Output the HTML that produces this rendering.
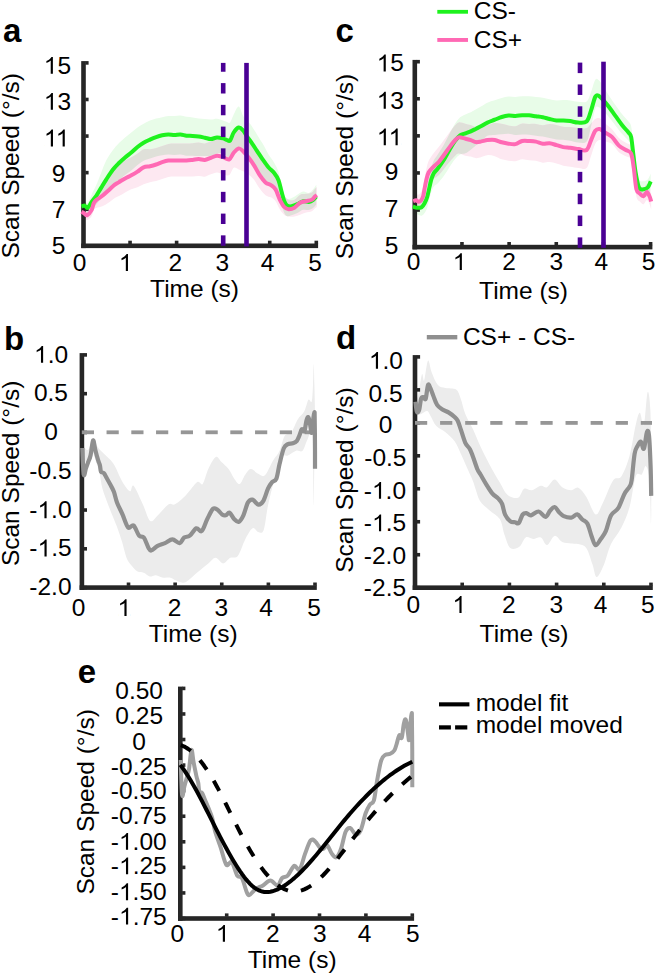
<!DOCTYPE html><html><head><meta charset="utf-8"><title>Figure</title><style>html,body{margin:0;padding:0;background:#fff;}svg{display:block;font-family:"Liberation Sans",sans-serif;}</style></head><body><svg width="657" height="974" viewBox="0 0 657 974" font-family="Liberation Sans, sans-serif"><defs><clipPath id="clipA"><path d="M81.50,207.70 C81.93,207.91 83.17,208.52 84.10,208.98 C85.03,209.44 85.88,211.17 87.10,210.48 C88.32,209.79 90.28,207.06 91.40,204.83 C92.52,202.61 92.98,199.11 93.80,197.13 C94.62,195.15 94.87,194.87 96.30,192.95 C97.73,191.03 100.38,188.21 102.40,185.60 C104.42,182.99 106.38,180.06 108.40,177.29 C110.42,174.52 112.73,171.18 114.50,168.98 C116.27,166.78 117.23,165.53 119.00,164.10 C120.77,162.67 123.05,161.53 125.10,160.40 C127.15,159.27 129.23,158.43 131.30,157.30 C133.37,156.17 135.45,154.93 137.50,153.60 C139.55,152.27 141.52,150.03 143.60,149.30 C145.68,148.57 147.92,149.42 150.00,149.20 C152.08,148.98 154.07,148.53 156.10,148.01 C158.13,147.49 160.17,146.76 162.20,146.08 C164.23,145.41 166.27,144.41 168.30,143.97 C170.33,143.54 172.38,143.58 174.40,143.50 C176.42,143.42 178.38,143.50 180.40,143.50 C182.42,143.50 184.47,143.58 186.50,143.52 C188.53,143.46 190.57,143.31 192.60,143.15 C194.63,143.00 196.67,142.55 198.70,142.59 C200.73,142.63 202.77,143.61 204.80,143.40 C206.83,143.19 208.87,142.03 210.90,141.30 C212.93,140.58 214.98,139.23 217.00,139.05 C219.02,138.87 220.95,139.85 223.00,140.20 C225.05,140.55 227.52,142.19 229.30,141.12 C231.08,140.06 232.13,136.09 233.70,133.80 C235.27,131.51 237.13,127.81 238.70,127.40 C240.27,126.99 241.53,129.59 243.10,131.31 C244.67,133.04 246.30,135.19 248.10,137.74 C249.90,140.29 251.97,143.29 253.90,146.63 C255.83,149.97 257.77,154.65 259.70,157.78 C261.63,160.91 263.57,163.65 265.50,165.40 C267.43,167.15 269.62,167.04 271.30,168.30 C272.98,169.56 274.17,170.06 275.60,172.93 C277.03,175.80 278.45,181.82 279.90,185.52 C281.35,189.23 282.85,192.79 284.30,195.17 C285.75,197.56 286.92,199.07 288.60,199.83 C290.28,200.58 292.47,200.55 294.40,199.70 C296.33,198.85 298.27,195.69 300.20,194.72 C302.13,193.75 304.07,194.25 306.00,193.87 C307.93,193.49 310.30,193.30 311.80,192.45 C313.30,191.60 314.17,189.65 315.00,188.75 C315.83,187.85 316.50,187.31 316.80,187.03 L316.80,206.97 C316.50,207.19 315.83,207.55 315.00,208.25 C314.17,208.95 313.30,210.44 311.80,211.15 C310.30,211.86 307.93,211.95 306.00,212.53 C304.07,213.12 302.13,214.00 300.20,214.68 C298.27,215.35 296.33,216.28 294.40,216.59 C292.47,216.90 290.28,216.81 288.60,216.54 C286.92,216.27 285.75,216.11 284.30,214.96 C282.85,213.80 281.35,211.89 279.90,209.62 C278.45,207.35 277.03,203.34 275.60,201.33 C274.17,199.33 272.98,198.62 271.30,197.58 C269.62,196.55 267.43,196.63 265.50,195.13 C263.57,193.64 261.63,191.21 259.70,188.62 C257.77,186.03 255.83,182.02 253.90,179.57 C251.97,177.12 249.90,175.30 248.10,173.91 C246.30,172.52 244.67,171.99 243.10,171.24 C241.53,170.49 240.27,169.97 238.70,169.40 C237.13,168.83 235.27,166.85 233.70,167.80 C232.13,168.75 231.08,174.06 229.30,175.12 C227.52,176.19 225.05,174.63 223.00,174.20 C220.95,173.77 219.02,172.53 217.00,172.55 C214.98,172.57 212.93,173.62 210.90,174.30 C208.87,174.99 206.83,176.36 204.80,176.66 C202.77,176.95 200.73,176.12 198.70,176.08 C196.67,176.04 194.63,176.33 192.60,176.41 C190.57,176.48 188.53,176.52 186.50,176.54 C184.47,176.55 182.42,176.51 180.40,176.50 C178.38,176.49 176.42,176.42 174.40,176.50 C172.38,176.58 170.33,176.54 168.30,176.97 C166.27,177.41 164.23,178.41 162.20,179.08 C160.17,179.76 158.13,180.49 156.10,181.01 C154.07,181.53 152.08,181.65 150.00,182.20 C147.92,182.75 145.68,183.48 143.60,184.30 C141.52,185.12 139.55,186.30 137.50,187.15 C135.45,187.99 133.37,188.50 131.30,189.37 C129.23,190.25 127.15,191.28 125.10,192.40 C123.05,193.52 120.77,195.13 119.00,196.10 C117.23,197.07 116.27,197.10 114.50,198.21 C112.73,199.32 110.42,201.42 108.40,202.77 C106.38,204.12 104.42,205.42 102.40,206.30 C100.38,207.18 97.73,207.44 96.30,208.06 C94.87,208.68 94.62,208.62 93.80,210.03 C92.98,211.45 92.52,214.85 91.40,216.53 C90.28,218.21 88.32,219.97 87.10,220.12 C85.88,220.27 85.03,218.16 84.10,217.42 C83.17,216.68 81.93,215.99 81.50,215.70 Z"/></clipPath><clipPath id="clipC"><path d="M413.20,196.20 C413.67,195.90 415.12,194.63 416.00,194.39 C416.88,194.15 417.67,195.10 418.50,194.75 C419.33,194.41 420.22,193.64 421.00,192.32 C421.78,191.00 422.63,188.89 423.20,186.82 C423.77,184.74 423.88,182.76 424.40,179.87 C424.92,176.99 425.60,172.63 426.30,169.50 C427.00,166.37 427.42,163.77 428.60,161.12 C429.78,158.46 431.72,155.91 433.40,153.57 C435.08,151.23 436.92,149.39 438.70,147.10 C440.48,144.81 442.32,142.25 444.10,139.80 C445.88,137.35 447.63,134.75 449.40,132.40 C451.17,130.05 453.15,127.37 454.70,125.70 C456.25,124.03 456.92,122.73 458.70,122.40 C460.48,122.07 463.38,123.25 465.40,123.70 C467.42,124.15 469.02,124.53 470.80,125.10 C472.58,125.67 474.33,126.88 476.10,127.10 C477.87,127.32 479.52,126.73 481.40,126.40 C483.28,126.07 485.17,125.66 487.40,125.10 C489.63,124.54 492.42,123.22 494.80,123.02 C497.18,122.81 499.42,123.45 501.70,123.86 C503.98,124.27 506.22,125.10 508.50,125.48 C510.78,125.86 513.12,126.46 515.40,126.13 C517.68,125.79 519.92,123.84 522.20,123.48 C524.48,123.12 526.82,123.87 529.10,123.94 C531.38,124.01 533.62,123.71 535.90,123.92 C538.18,124.13 540.52,125.20 542.80,125.22 C545.08,125.24 547.32,124.06 549.60,124.04 C551.88,124.01 554.22,124.62 556.50,125.08 C558.78,125.53 561.02,126.41 563.30,126.75 C565.58,127.09 567.63,126.93 570.20,127.12 C572.77,127.32 575.97,127.78 578.70,127.93 C581.43,128.08 584.55,128.79 586.60,128.04 C588.65,127.28 589.55,124.93 591.00,123.40 C592.45,121.87 593.85,119.74 595.30,118.88 C596.75,118.02 598.10,117.54 599.70,118.25 C601.30,118.96 602.87,121.35 604.90,123.14 C606.93,124.93 609.57,126.51 611.90,128.99 C614.23,131.46 616.57,135.72 618.90,138.00 C621.23,140.29 623.87,141.31 625.90,142.72 C627.93,144.13 629.78,143.40 631.10,146.46 C632.42,149.52 632.92,155.19 633.80,161.08 C634.68,166.96 635.38,177.66 636.40,181.75 C637.42,185.84 638.73,184.52 639.90,185.61 C641.07,186.70 642.23,188.59 643.40,188.30 C644.57,188.01 645.88,183.90 646.90,183.90 C647.92,183.90 648.78,186.70 649.50,188.30 C650.22,189.90 650.92,192.63 651.20,193.50 L651.20,209.50 C650.92,208.63 650.22,205.90 649.50,204.30 C648.78,202.70 647.92,199.90 646.90,199.90 C645.88,199.90 644.57,204.02 643.40,204.30 C642.23,204.58 641.07,202.89 639.90,201.57 C638.73,200.26 637.42,200.87 636.40,196.40 C635.38,191.93 634.68,180.89 633.80,174.75 C632.92,168.61 632.42,162.62 631.10,159.54 C629.78,156.46 627.93,157.50 625.90,156.28 C623.87,155.05 621.23,154.27 618.90,152.20 C616.57,150.12 614.23,145.59 611.90,143.81 C609.57,142.04 606.93,142.16 604.90,141.54 C602.87,140.92 601.30,139.76 599.70,140.12 C598.10,140.48 596.75,141.05 595.30,143.68 C593.85,146.31 592.45,151.84 591.00,155.90 C589.55,159.96 588.65,166.03 586.60,168.04 C584.55,170.04 581.43,168.16 578.70,167.93 C575.97,167.70 572.77,167.00 570.20,166.64 C567.63,166.28 565.58,166.28 563.30,165.77 C561.02,165.27 558.78,164.23 556.50,163.61 C554.22,162.99 551.88,162.20 549.60,162.05 C547.32,161.90 545.08,162.90 542.80,162.71 C540.52,162.51 538.18,161.27 535.90,160.87 C533.62,160.48 531.38,160.63 529.10,160.35 C526.82,160.07 524.48,159.06 522.20,159.20 C519.92,159.34 517.68,160.92 515.40,161.17 C513.12,161.42 510.78,161.01 508.50,160.70 C506.22,160.39 503.98,160.06 501.70,159.30 C499.42,158.54 497.18,156.82 494.80,156.13 C492.42,155.44 489.63,155.01 487.40,155.15 C485.17,155.29 483.28,156.48 481.40,156.97 C479.52,157.47 477.87,158.20 476.10,158.13 C474.33,158.07 472.58,157.01 470.80,156.60 C469.02,156.18 467.42,156.19 465.40,155.67 C463.38,155.14 460.48,153.38 458.70,153.47 C456.92,153.55 456.25,154.74 454.70,156.17 C453.15,157.61 451.17,160.00 449.40,162.09 C447.63,164.18 445.88,166.52 444.10,168.70 C442.32,170.89 440.48,173.53 438.70,175.20 C436.92,176.88 435.08,177.38 433.40,178.74 C431.72,180.09 429.78,181.40 428.60,183.33 C427.42,185.26 427.00,187.63 426.30,190.30 C425.60,192.97 424.92,196.85 424.40,199.33 C423.88,201.81 423.77,203.62 423.20,205.18 C422.63,206.74 421.78,208.07 421.00,208.68 C420.22,209.29 419.33,209.26 418.50,208.85 C417.67,208.43 416.88,206.65 416.00,206.21 C415.12,205.77 413.67,206.20 413.20,206.20 Z"/></clipPath></defs><rect width="657" height="974" fill="#fff"/><path d="M81.50,202.50 C82.03,202.29 83.77,201.15 84.70,201.26 C85.63,201.37 86.38,203.30 87.10,203.18 C87.82,203.06 88.18,202.12 89.00,200.53 C89.82,198.94 90.78,196.24 92.00,193.63 C93.22,191.03 94.78,188.33 96.30,184.88 C97.82,181.44 99.45,177.03 101.10,172.98 C102.75,168.93 104.25,164.37 106.20,160.58 C108.15,156.80 110.67,153.21 112.80,150.28 C114.93,147.35 116.95,145.15 119.00,143.00 C121.05,140.85 123.05,139.15 125.10,137.40 C127.15,135.65 129.23,134.17 131.30,132.52 C133.37,130.88 135.45,128.99 137.50,127.52 C139.55,126.05 141.52,124.85 143.60,123.70 C145.68,122.55 147.92,121.45 150.00,120.60 C152.08,119.75 154.07,119.16 156.10,118.61 C158.13,118.06 160.17,117.72 162.20,117.28 C164.23,116.84 166.27,116.17 168.30,115.97 C170.33,115.78 172.38,116.18 174.40,116.10 C176.42,116.02 178.38,115.39 180.40,115.50 C182.42,115.61 184.47,116.42 186.50,116.74 C188.53,117.06 190.57,117.12 192.60,117.41 C194.63,117.70 196.67,118.22 198.70,118.48 C200.73,118.74 202.77,118.80 204.80,118.97 C206.83,119.15 208.87,119.55 210.90,119.51 C212.93,119.48 214.98,118.60 217.00,118.75 C219.02,118.90 221.42,119.89 223.00,120.40 C224.58,120.91 225.32,121.45 226.50,121.80 C227.68,122.15 228.90,123.72 230.10,122.50 C231.30,121.28 232.27,117.17 233.70,114.50 C235.13,111.83 237.13,106.27 238.70,106.50 C240.27,106.73 241.77,113.54 243.10,115.87 C244.43,118.19 245.38,118.94 246.70,120.44 C248.02,121.95 249.32,122.62 251.00,124.90 C252.68,127.18 254.87,131.01 256.80,134.13 C258.73,137.24 260.67,140.24 262.60,143.58 C264.53,146.91 266.47,150.98 268.40,154.15 C270.33,157.33 272.52,159.70 274.20,162.63 C275.88,165.56 277.30,168.20 278.50,171.76 C279.70,175.31 280.43,180.05 281.40,183.94 C282.37,187.84 283.33,192.66 284.30,195.11 C285.27,197.57 286.00,198.17 287.20,198.69 C288.40,199.20 289.82,198.85 291.50,198.19 C293.18,197.52 295.37,195.81 297.30,194.70 C299.23,193.59 301.17,191.85 303.10,191.54 C305.03,191.24 307.22,193.28 308.90,192.89 C310.58,192.50 311.97,190.58 313.20,189.23 C314.43,187.87 315.78,185.51 316.30,184.76 L316.30,204.50 C315.78,205.05 314.43,206.90 313.20,207.80 C311.97,208.70 310.58,209.57 308.90,209.91 C307.22,210.25 305.03,209.32 303.10,209.86 C301.17,210.39 299.23,212.19 297.30,213.10 C295.37,214.01 293.18,214.78 291.50,215.30 C289.82,215.82 288.40,216.60 287.20,216.23 C286.00,215.86 285.27,215.02 284.30,213.07 C283.33,211.12 282.37,207.51 281.40,204.54 C280.43,201.58 279.70,197.68 278.50,195.26 C277.30,192.83 275.88,191.84 274.20,190.00 C272.52,188.16 270.33,186.48 268.40,184.20 C266.47,181.92 264.53,178.91 262.60,176.30 C260.67,173.69 258.73,171.11 256.80,168.55 C254.87,165.98 252.68,163.05 251.00,160.90 C249.32,158.75 248.02,157.39 246.70,155.64 C245.38,153.89 244.43,151.58 243.10,150.39 C241.77,149.20 240.27,148.31 238.70,148.50 C237.13,148.69 235.13,149.89 233.70,151.50 C232.27,153.11 231.30,157.39 230.10,158.15 C228.90,158.92 227.68,156.90 226.50,156.11 C225.32,155.32 224.58,153.83 223.00,153.40 C221.42,152.97 219.02,153.06 217.00,153.50 C214.98,153.94 212.93,155.61 210.90,156.02 C208.87,156.44 206.83,155.99 204.80,155.99 C202.77,155.99 200.73,156.07 198.70,156.01 C196.67,155.95 194.63,155.70 192.60,155.65 C190.57,155.59 188.53,155.87 186.50,155.68 C184.47,155.49 182.42,154.60 180.40,154.50 C178.38,154.40 176.42,155.10 174.40,155.10 C172.38,155.10 170.33,154.47 168.30,154.50 C166.27,154.53 164.23,154.95 162.20,155.30 C160.17,155.65 158.13,156.06 156.10,156.61 C154.07,157.16 152.08,157.92 150.00,158.60 C147.92,159.28 145.68,159.63 143.60,160.70 C141.52,161.77 139.55,163.37 137.50,165.00 C135.45,166.63 133.37,168.85 131.30,170.50 C129.23,172.15 127.15,173.32 125.10,174.91 C123.05,176.49 121.05,178.42 119.00,180.00 C116.95,181.58 114.93,182.47 112.80,184.42 C110.67,186.36 108.15,189.37 106.20,191.68 C104.25,193.99 102.75,196.12 101.10,198.27 C99.45,200.41 97.82,202.84 96.30,204.57 C94.78,206.29 93.22,207.31 92.00,208.63 C90.78,209.96 89.82,211.70 89.00,212.53 C88.18,213.37 87.82,214.02 87.10,213.64 C86.38,213.26 85.63,210.80 84.70,210.28 C83.77,209.76 82.03,210.46 81.50,210.50 Z" fill="#e8fce8"/>
<path d="M81.50,207.70 C81.93,207.91 83.17,208.52 84.10,208.98 C85.03,209.44 85.88,211.17 87.10,210.48 C88.32,209.79 90.28,207.06 91.40,204.83 C92.52,202.61 92.98,199.11 93.80,197.13 C94.62,195.15 94.87,194.87 96.30,192.95 C97.73,191.03 100.38,188.21 102.40,185.60 C104.42,182.99 106.38,180.06 108.40,177.29 C110.42,174.52 112.73,171.18 114.50,168.98 C116.27,166.78 117.23,165.53 119.00,164.10 C120.77,162.67 123.05,161.53 125.10,160.40 C127.15,159.27 129.23,158.43 131.30,157.30 C133.37,156.17 135.45,154.93 137.50,153.60 C139.55,152.27 141.52,150.03 143.60,149.30 C145.68,148.57 147.92,149.42 150.00,149.20 C152.08,148.98 154.07,148.53 156.10,148.01 C158.13,147.49 160.17,146.76 162.20,146.08 C164.23,145.41 166.27,144.41 168.30,143.97 C170.33,143.54 172.38,143.58 174.40,143.50 C176.42,143.42 178.38,143.50 180.40,143.50 C182.42,143.50 184.47,143.58 186.50,143.52 C188.53,143.46 190.57,143.31 192.60,143.15 C194.63,143.00 196.67,142.55 198.70,142.59 C200.73,142.63 202.77,143.61 204.80,143.40 C206.83,143.19 208.87,142.03 210.90,141.30 C212.93,140.58 214.98,139.23 217.00,139.05 C219.02,138.87 220.95,139.85 223.00,140.20 C225.05,140.55 227.52,142.19 229.30,141.12 C231.08,140.06 232.13,136.09 233.70,133.80 C235.27,131.51 237.13,127.81 238.70,127.40 C240.27,126.99 241.53,129.59 243.10,131.31 C244.67,133.04 246.30,135.19 248.10,137.74 C249.90,140.29 251.97,143.29 253.90,146.63 C255.83,149.97 257.77,154.65 259.70,157.78 C261.63,160.91 263.57,163.65 265.50,165.40 C267.43,167.15 269.62,167.04 271.30,168.30 C272.98,169.56 274.17,170.06 275.60,172.93 C277.03,175.80 278.45,181.82 279.90,185.52 C281.35,189.23 282.85,192.79 284.30,195.17 C285.75,197.56 286.92,199.07 288.60,199.83 C290.28,200.58 292.47,200.55 294.40,199.70 C296.33,198.85 298.27,195.69 300.20,194.72 C302.13,193.75 304.07,194.25 306.00,193.87 C307.93,193.49 310.30,193.30 311.80,192.45 C313.30,191.60 314.17,189.65 315.00,188.75 C315.83,187.85 316.50,187.31 316.80,187.03 L316.80,206.97 C316.50,207.19 315.83,207.55 315.00,208.25 C314.17,208.95 313.30,210.44 311.80,211.15 C310.30,211.86 307.93,211.95 306.00,212.53 C304.07,213.12 302.13,214.00 300.20,214.68 C298.27,215.35 296.33,216.28 294.40,216.59 C292.47,216.90 290.28,216.81 288.60,216.54 C286.92,216.27 285.75,216.11 284.30,214.96 C282.85,213.80 281.35,211.89 279.90,209.62 C278.45,207.35 277.03,203.34 275.60,201.33 C274.17,199.33 272.98,198.62 271.30,197.58 C269.62,196.55 267.43,196.63 265.50,195.13 C263.57,193.64 261.63,191.21 259.70,188.62 C257.77,186.03 255.83,182.02 253.90,179.57 C251.97,177.12 249.90,175.30 248.10,173.91 C246.30,172.52 244.67,171.99 243.10,171.24 C241.53,170.49 240.27,169.97 238.70,169.40 C237.13,168.83 235.27,166.85 233.70,167.80 C232.13,168.75 231.08,174.06 229.30,175.12 C227.52,176.19 225.05,174.63 223.00,174.20 C220.95,173.77 219.02,172.53 217.00,172.55 C214.98,172.57 212.93,173.62 210.90,174.30 C208.87,174.99 206.83,176.36 204.80,176.66 C202.77,176.95 200.73,176.12 198.70,176.08 C196.67,176.04 194.63,176.33 192.60,176.41 C190.57,176.48 188.53,176.52 186.50,176.54 C184.47,176.55 182.42,176.51 180.40,176.50 C178.38,176.49 176.42,176.42 174.40,176.50 C172.38,176.58 170.33,176.54 168.30,176.97 C166.27,177.41 164.23,178.41 162.20,179.08 C160.17,179.76 158.13,180.49 156.10,181.01 C154.07,181.53 152.08,181.65 150.00,182.20 C147.92,182.75 145.68,183.48 143.60,184.30 C141.52,185.12 139.55,186.30 137.50,187.15 C135.45,187.99 133.37,188.50 131.30,189.37 C129.23,190.25 127.15,191.28 125.10,192.40 C123.05,193.52 120.77,195.13 119.00,196.10 C117.23,197.07 116.27,197.10 114.50,198.21 C112.73,199.32 110.42,201.42 108.40,202.77 C106.38,204.12 104.42,205.42 102.40,206.30 C100.38,207.18 97.73,207.44 96.30,208.06 C94.87,208.68 94.62,208.62 93.80,210.03 C92.98,211.45 92.52,214.85 91.40,216.53 C90.28,218.21 88.32,219.97 87.10,220.12 C85.88,220.27 85.03,218.16 84.10,217.42 C83.17,216.68 81.93,215.99 81.50,215.70 Z" fill="#fde8f1"/>
<path d="M81.50,202.50 C82.03,202.29 83.77,201.15 84.70,201.26 C85.63,201.37 86.38,203.30 87.10,203.18 C87.82,203.06 88.18,202.12 89.00,200.53 C89.82,198.94 90.78,196.24 92.00,193.63 C93.22,191.03 94.78,188.33 96.30,184.88 C97.82,181.44 99.45,177.03 101.10,172.98 C102.75,168.93 104.25,164.37 106.20,160.58 C108.15,156.80 110.67,153.21 112.80,150.28 C114.93,147.35 116.95,145.15 119.00,143.00 C121.05,140.85 123.05,139.15 125.10,137.40 C127.15,135.65 129.23,134.17 131.30,132.52 C133.37,130.88 135.45,128.99 137.50,127.52 C139.55,126.05 141.52,124.85 143.60,123.70 C145.68,122.55 147.92,121.45 150.00,120.60 C152.08,119.75 154.07,119.16 156.10,118.61 C158.13,118.06 160.17,117.72 162.20,117.28 C164.23,116.84 166.27,116.17 168.30,115.97 C170.33,115.78 172.38,116.18 174.40,116.10 C176.42,116.02 178.38,115.39 180.40,115.50 C182.42,115.61 184.47,116.42 186.50,116.74 C188.53,117.06 190.57,117.12 192.60,117.41 C194.63,117.70 196.67,118.22 198.70,118.48 C200.73,118.74 202.77,118.80 204.80,118.97 C206.83,119.15 208.87,119.55 210.90,119.51 C212.93,119.48 214.98,118.60 217.00,118.75 C219.02,118.90 221.42,119.89 223.00,120.40 C224.58,120.91 225.32,121.45 226.50,121.80 C227.68,122.15 228.90,123.72 230.10,122.50 C231.30,121.28 232.27,117.17 233.70,114.50 C235.13,111.83 237.13,106.27 238.70,106.50 C240.27,106.73 241.77,113.54 243.10,115.87 C244.43,118.19 245.38,118.94 246.70,120.44 C248.02,121.95 249.32,122.62 251.00,124.90 C252.68,127.18 254.87,131.01 256.80,134.13 C258.73,137.24 260.67,140.24 262.60,143.58 C264.53,146.91 266.47,150.98 268.40,154.15 C270.33,157.33 272.52,159.70 274.20,162.63 C275.88,165.56 277.30,168.20 278.50,171.76 C279.70,175.31 280.43,180.05 281.40,183.94 C282.37,187.84 283.33,192.66 284.30,195.11 C285.27,197.57 286.00,198.17 287.20,198.69 C288.40,199.20 289.82,198.85 291.50,198.19 C293.18,197.52 295.37,195.81 297.30,194.70 C299.23,193.59 301.17,191.85 303.10,191.54 C305.03,191.24 307.22,193.28 308.90,192.89 C310.58,192.50 311.97,190.58 313.20,189.23 C314.43,187.87 315.78,185.51 316.30,184.76 L316.30,204.50 C315.78,205.05 314.43,206.90 313.20,207.80 C311.97,208.70 310.58,209.57 308.90,209.91 C307.22,210.25 305.03,209.32 303.10,209.86 C301.17,210.39 299.23,212.19 297.30,213.10 C295.37,214.01 293.18,214.78 291.50,215.30 C289.82,215.82 288.40,216.60 287.20,216.23 C286.00,215.86 285.27,215.02 284.30,213.07 C283.33,211.12 282.37,207.51 281.40,204.54 C280.43,201.58 279.70,197.68 278.50,195.26 C277.30,192.83 275.88,191.84 274.20,190.00 C272.52,188.16 270.33,186.48 268.40,184.20 C266.47,181.92 264.53,178.91 262.60,176.30 C260.67,173.69 258.73,171.11 256.80,168.55 C254.87,165.98 252.68,163.05 251.00,160.90 C249.32,158.75 248.02,157.39 246.70,155.64 C245.38,153.89 244.43,151.58 243.10,150.39 C241.77,149.20 240.27,148.31 238.70,148.50 C237.13,148.69 235.13,149.89 233.70,151.50 C232.27,153.11 231.30,157.39 230.10,158.15 C228.90,158.92 227.68,156.90 226.50,156.11 C225.32,155.32 224.58,153.83 223.00,153.40 C221.42,152.97 219.02,153.06 217.00,153.50 C214.98,153.94 212.93,155.61 210.90,156.02 C208.87,156.44 206.83,155.99 204.80,155.99 C202.77,155.99 200.73,156.07 198.70,156.01 C196.67,155.95 194.63,155.70 192.60,155.65 C190.57,155.59 188.53,155.87 186.50,155.68 C184.47,155.49 182.42,154.60 180.40,154.50 C178.38,154.40 176.42,155.10 174.40,155.10 C172.38,155.10 170.33,154.47 168.30,154.50 C166.27,154.53 164.23,154.95 162.20,155.30 C160.17,155.65 158.13,156.06 156.10,156.61 C154.07,157.16 152.08,157.92 150.00,158.60 C147.92,159.28 145.68,159.63 143.60,160.70 C141.52,161.77 139.55,163.37 137.50,165.00 C135.45,166.63 133.37,168.85 131.30,170.50 C129.23,172.15 127.15,173.32 125.10,174.91 C123.05,176.49 121.05,178.42 119.00,180.00 C116.95,181.58 114.93,182.47 112.80,184.42 C110.67,186.36 108.15,189.37 106.20,191.68 C104.25,193.99 102.75,196.12 101.10,198.27 C99.45,200.41 97.82,202.84 96.30,204.57 C94.78,206.29 93.22,207.31 92.00,208.63 C90.78,209.96 89.82,211.70 89.00,212.53 C88.18,213.37 87.82,214.02 87.10,213.64 C86.38,213.26 85.63,210.80 84.70,210.28 C83.77,209.76 82.03,210.46 81.50,210.50 Z" fill="#dfe0d9" clip-path="url(#clipA)"/>
<rect x="81.20" y="61.10" width="4.60" height="187.00" fill="#262626"/>
<rect x="81.20" y="243.50" width="236.90" height="4.60" fill="#262626"/>
<rect x="85.30" y="244.00" width="3.30" height="3.60" fill="#262626"/>
<rect x="85.30" y="207.42" width="3.30" height="3.60" fill="#262626"/>
<rect x="85.30" y="170.84" width="3.30" height="3.60" fill="#262626"/>
<rect x="85.30" y="134.26" width="3.30" height="3.60" fill="#262626"/>
<rect x="85.30" y="97.68" width="3.30" height="3.60" fill="#262626"/>
<rect x="85.30" y="61.10" width="3.30" height="3.60" fill="#262626"/>
<rect x="128.26" y="240.70" width="3.60" height="3.30" fill="#262626"/>
<rect x="174.82" y="240.70" width="3.60" height="3.30" fill="#262626"/>
<rect x="221.38" y="240.70" width="3.60" height="3.30" fill="#262626"/>
<rect x="267.94" y="240.70" width="3.60" height="3.30" fill="#262626"/>
<rect x="314.50" y="240.70" width="3.60" height="3.30" fill="#262626"/>
<path d="M81.50,206.50 C82.03,206.35 83.77,205.35 84.70,205.60 C85.63,205.85 86.38,207.90 87.10,208.00 C87.82,208.10 88.18,207.32 89.00,206.20 C89.82,205.08 90.78,203.03 92.00,201.30 C93.22,199.57 94.78,198.03 96.30,195.80 C97.82,193.57 99.45,190.60 101.10,187.90 C102.75,185.20 104.25,182.62 106.20,179.60 C108.15,176.58 110.67,172.57 112.80,169.80 C114.93,167.03 116.95,165.07 119.00,163.00 C121.05,160.93 123.05,159.15 125.10,157.40 C127.15,155.65 129.23,154.23 131.30,152.50 C133.37,150.77 135.45,148.63 137.50,147.00 C139.55,145.37 141.52,143.93 143.60,142.70 C145.68,141.47 147.92,140.53 150.00,139.60 C152.08,138.67 154.07,137.82 156.10,137.10 C158.13,136.38 160.17,135.73 162.20,135.30 C164.23,134.87 166.27,134.53 168.30,134.50 C170.33,134.47 172.38,135.10 174.40,135.10 C176.42,135.10 178.38,134.40 180.40,134.50 C182.42,134.60 184.47,135.47 186.50,135.70 C188.53,135.93 190.57,135.77 192.60,135.90 C194.63,136.03 196.67,136.20 198.70,136.50 C200.73,136.80 202.77,137.28 204.80,137.70 C206.83,138.12 208.87,139.03 210.90,139.00 C212.93,138.97 214.98,137.60 217.00,137.50 C219.02,137.40 221.42,138.02 223.00,138.40 C224.58,138.78 225.32,139.45 226.50,139.80 C227.68,140.15 228.90,141.72 230.10,140.50 C231.30,139.28 232.27,134.67 233.70,132.50 C235.13,130.33 237.13,127.85 238.70,127.50 C240.27,127.15 241.77,128.97 243.10,130.40 C244.43,131.83 245.38,134.18 246.70,136.10 C248.02,138.02 249.32,139.48 251.00,141.90 C252.68,144.32 254.87,147.70 256.80,150.60 C258.73,153.50 260.67,156.53 262.60,159.30 C264.53,162.07 266.47,164.92 268.40,167.20 C270.33,169.48 272.52,170.83 274.20,173.00 C275.88,175.17 277.30,177.18 278.50,180.20 C279.70,183.22 280.43,187.60 281.40,191.10 C282.37,194.60 283.33,198.78 284.30,201.20 C285.27,203.62 286.00,204.75 287.20,205.60 C288.40,206.45 289.82,206.55 291.50,206.30 C293.18,206.05 295.37,204.95 297.30,204.10 C299.23,203.25 301.17,201.57 303.10,201.20 C305.03,200.83 307.22,202.13 308.90,201.90 C310.58,201.67 311.97,200.70 313.20,199.80 C314.43,198.90 315.78,197.05 316.30,196.50" fill="none" stroke="#1ef21e" stroke-width="4" stroke-linejoin="round" stroke-linecap="butt"/>
<path d="M81.50,211.70 C81.93,211.95 83.17,212.60 84.10,213.20 C85.03,213.80 85.88,215.77 87.10,215.30 C88.32,214.83 90.28,212.43 91.40,210.40 C92.52,208.37 92.98,204.82 93.80,203.10 C94.62,201.38 94.87,201.32 96.30,200.10 C97.73,198.88 100.38,197.42 102.40,195.80 C104.42,194.18 106.38,192.22 108.40,190.40 C110.42,188.58 112.73,186.28 114.50,184.90 C116.27,183.52 117.23,183.18 119.00,182.10 C120.77,181.02 123.05,179.53 125.10,178.40 C127.15,177.27 129.23,176.43 131.30,175.30 C133.37,174.17 135.45,172.93 137.50,171.60 C139.55,170.27 141.52,168.20 143.60,167.30 C145.68,166.40 147.92,166.67 150.00,166.20 C152.08,165.73 154.07,165.18 156.10,164.50 C158.13,163.82 160.17,162.77 162.20,162.10 C164.23,161.43 166.27,160.77 168.30,160.50 C170.33,160.23 172.38,160.50 174.40,160.50 C176.42,160.50 178.38,160.50 180.40,160.50 C182.42,160.50 184.47,160.60 186.50,160.50 C188.53,160.40 190.57,160.13 192.60,159.90 C194.63,159.67 196.67,159.10 198.70,159.10 C200.73,159.10 202.77,160.12 204.80,159.90 C206.83,159.68 208.87,158.48 210.90,157.80 C212.93,157.12 214.98,155.90 217.00,155.80 C219.02,155.70 220.95,156.62 223.00,157.20 C225.05,157.78 227.52,160.03 229.30,159.30 C231.08,158.57 232.13,154.62 233.70,152.80 C235.27,150.98 237.13,148.65 238.70,148.40 C240.27,148.15 241.53,149.85 243.10,151.30 C244.67,152.75 246.30,154.80 248.10,157.10 C249.90,159.40 251.97,162.08 253.90,165.10 C255.83,168.12 257.77,172.32 259.70,175.20 C261.63,178.08 263.57,180.72 265.50,182.40 C267.43,184.08 269.62,184.10 271.30,185.30 C272.98,186.50 274.17,187.18 275.60,189.60 C277.03,192.02 278.45,196.90 279.90,199.80 C281.35,202.70 282.85,205.43 284.30,207.00 C285.75,208.57 286.92,209.08 288.60,209.20 C290.28,209.32 292.47,208.78 294.40,207.70 C296.33,206.62 298.27,203.78 300.20,202.70 C302.13,201.62 304.07,201.68 306.00,201.20 C307.93,200.72 310.30,200.58 311.80,199.80 C313.30,199.02 314.17,197.30 315.00,196.50 C315.83,195.70 316.50,195.25 316.80,195.00" fill="none" stroke="#ff69b4" stroke-width="4" stroke-linejoin="round" stroke-linecap="butt"/>
<rect x="220.90" y="62.90" width="4.60" height="8.85" fill="#4a0094"/>
<rect x="220.90" y="83.10" width="4.60" height="10.40" fill="#4a0094"/>
<rect x="220.90" y="104.85" width="4.60" height="10.40" fill="#4a0094"/>
<rect x="220.90" y="126.60" width="4.60" height="10.40" fill="#4a0094"/>
<rect x="220.90" y="148.35" width="4.60" height="10.40" fill="#4a0094"/>
<rect x="220.90" y="170.10" width="4.60" height="10.40" fill="#4a0094"/>
<rect x="220.90" y="191.85" width="4.60" height="10.40" fill="#4a0094"/>
<rect x="220.90" y="213.60" width="4.60" height="10.40" fill="#4a0094"/>
<rect x="220.90" y="235.35" width="4.60" height="10.40" fill="#4a0094"/>
<rect x="244.20" y="62.90" width="4.60" height="183.50" fill="#4a0094"/>
<path d="M412.90,201.50 C413.62,201.47 415.75,201.80 417.20,201.35 C418.65,200.89 420.37,200.07 421.60,198.75 C422.83,197.42 423.67,195.45 424.60,193.38 C425.53,191.31 426.37,189.36 427.20,186.32 C428.03,183.29 428.90,178.37 429.60,175.18 C430.30,172.00 430.68,169.72 431.40,167.23 C432.12,164.74 432.87,162.33 433.90,160.26 C434.93,158.19 435.90,157.49 437.60,154.82 C439.30,152.16 442.13,147.74 444.10,144.27 C446.07,140.80 447.63,137.32 449.40,133.99 C451.17,130.66 452.92,127.09 454.70,124.31 C456.48,121.53 458.32,118.96 460.10,117.31 C461.88,115.65 463.62,115.24 465.40,114.38 C467.18,113.52 469.02,113.01 470.80,112.15 C472.58,111.29 474.33,110.19 476.10,109.22 C477.87,108.24 479.52,107.39 481.40,106.29 C483.28,105.19 485.17,103.63 487.40,102.63 C489.63,101.62 492.42,101.04 494.80,100.27 C497.18,99.50 499.42,98.61 501.70,98.00 C503.98,97.39 506.22,96.78 508.50,96.60 C510.78,96.42 513.12,96.95 515.40,96.90 C517.68,96.85 519.92,96.40 522.20,96.30 C524.48,96.20 526.82,96.17 529.10,96.30 C531.38,96.43 533.62,96.82 535.90,97.07 C538.18,97.32 540.52,97.45 542.80,97.81 C545.08,98.17 547.32,98.82 549.60,99.25 C551.88,99.67 554.22,100.24 556.50,100.38 C558.78,100.51 561.02,100.04 563.30,100.05 C565.58,100.06 567.75,100.15 570.20,100.42 C572.65,100.70 575.27,101.53 578.00,101.70 C580.73,101.87 584.43,103.04 586.60,101.46 C588.77,99.88 589.55,95.81 591.00,92.20 C592.45,88.59 594.00,81.80 595.30,79.82 C596.60,77.84 597.48,79.21 598.80,80.32 C600.12,81.43 601.60,84.09 603.20,86.48 C604.80,88.87 606.37,91.59 608.40,94.66 C610.43,97.73 613.07,101.59 615.40,104.90 C617.73,108.21 620.22,111.73 622.40,114.50 C624.58,117.27 627.05,119.60 628.50,121.50 C629.95,123.40 630.37,122.79 631.10,125.90 C631.83,129.01 632.17,134.10 632.90,140.14 C633.63,146.17 634.48,155.61 635.50,162.11 C636.52,168.61 637.68,175.93 639.00,179.12 C640.32,182.32 641.95,181.24 643.40,181.30 C644.85,181.36 646.48,180.82 647.70,179.50 C648.92,178.18 650.20,174.42 650.70,173.40 L650.70,189.40 C650.20,190.42 648.92,194.18 647.70,195.50 C646.48,196.82 644.85,197.30 643.40,197.30 C641.95,197.30 640.32,198.42 639.00,195.50 C637.68,192.58 636.52,185.92 635.50,179.80 C634.48,173.68 633.63,164.60 632.90,158.80 C632.17,153.00 631.83,147.98 631.10,144.98 C630.37,141.98 629.95,142.59 628.50,140.82 C627.05,139.05 624.58,136.94 622.40,134.37 C620.22,131.80 617.73,128.39 615.40,125.41 C613.07,122.43 610.43,118.90 608.40,116.51 C606.37,114.13 604.80,112.64 603.20,111.11 C601.60,109.57 600.12,107.70 598.80,107.29 C597.48,106.89 596.60,105.43 595.30,108.66 C594.00,111.89 592.45,121.23 591.00,126.70 C589.55,132.17 588.77,138.85 586.60,141.50 C584.43,144.15 580.73,142.72 578.00,142.60 C575.27,142.48 572.65,141.25 570.20,140.78 C567.75,140.30 565.58,139.97 563.30,139.75 C561.02,139.52 558.78,139.69 556.50,139.42 C554.22,139.15 551.88,138.60 549.60,138.12 C547.32,137.64 545.08,136.96 542.80,136.55 C540.52,136.15 538.18,135.98 535.90,135.69 C533.62,135.39 531.38,134.96 529.10,134.77 C526.82,134.58 524.48,134.52 522.20,134.54 C519.92,134.56 517.68,135.05 515.40,134.91 C513.12,134.78 510.78,133.85 508.50,133.73 C506.22,133.62 503.98,134.02 501.70,134.23 C499.42,134.43 497.18,134.71 494.80,134.97 C492.42,135.23 489.63,134.78 487.40,135.78 C485.17,136.79 483.28,139.42 481.40,141.01 C479.52,142.60 477.87,143.88 476.10,145.32 C474.33,146.76 472.58,148.31 470.80,149.63 C469.02,150.96 467.18,152.47 465.40,153.28 C463.62,154.09 461.88,153.46 460.10,154.49 C458.32,155.53 456.48,157.37 454.70,159.49 C452.92,161.61 451.17,164.54 449.40,167.21 C447.63,169.88 446.07,172.81 444.10,175.53 C442.13,178.25 439.30,181.73 437.60,183.55 C435.90,185.36 434.93,185.07 433.90,186.42 C432.87,187.78 432.12,189.67 431.40,191.66 C430.68,193.65 430.30,195.67 429.60,198.37 C428.90,201.07 428.03,205.40 427.20,207.85 C426.37,210.29 425.53,211.72 424.60,213.02 C423.67,214.32 422.83,215.45 421.60,215.65 C420.37,215.86 418.65,214.95 417.20,214.25 C415.75,213.56 413.62,211.96 412.90,211.50 Z" fill="#e8fce8"/>
<path d="M413.20,196.20 C413.67,195.90 415.12,194.63 416.00,194.39 C416.88,194.15 417.67,195.10 418.50,194.75 C419.33,194.41 420.22,193.64 421.00,192.32 C421.78,191.00 422.63,188.89 423.20,186.82 C423.77,184.74 423.88,182.76 424.40,179.87 C424.92,176.99 425.60,172.63 426.30,169.50 C427.00,166.37 427.42,163.77 428.60,161.12 C429.78,158.46 431.72,155.91 433.40,153.57 C435.08,151.23 436.92,149.39 438.70,147.10 C440.48,144.81 442.32,142.25 444.10,139.80 C445.88,137.35 447.63,134.75 449.40,132.40 C451.17,130.05 453.15,127.37 454.70,125.70 C456.25,124.03 456.92,122.73 458.70,122.40 C460.48,122.07 463.38,123.25 465.40,123.70 C467.42,124.15 469.02,124.53 470.80,125.10 C472.58,125.67 474.33,126.88 476.10,127.10 C477.87,127.32 479.52,126.73 481.40,126.40 C483.28,126.07 485.17,125.66 487.40,125.10 C489.63,124.54 492.42,123.22 494.80,123.02 C497.18,122.81 499.42,123.45 501.70,123.86 C503.98,124.27 506.22,125.10 508.50,125.48 C510.78,125.86 513.12,126.46 515.40,126.13 C517.68,125.79 519.92,123.84 522.20,123.48 C524.48,123.12 526.82,123.87 529.10,123.94 C531.38,124.01 533.62,123.71 535.90,123.92 C538.18,124.13 540.52,125.20 542.80,125.22 C545.08,125.24 547.32,124.06 549.60,124.04 C551.88,124.01 554.22,124.62 556.50,125.08 C558.78,125.53 561.02,126.41 563.30,126.75 C565.58,127.09 567.63,126.93 570.20,127.12 C572.77,127.32 575.97,127.78 578.70,127.93 C581.43,128.08 584.55,128.79 586.60,128.04 C588.65,127.28 589.55,124.93 591.00,123.40 C592.45,121.87 593.85,119.74 595.30,118.88 C596.75,118.02 598.10,117.54 599.70,118.25 C601.30,118.96 602.87,121.35 604.90,123.14 C606.93,124.93 609.57,126.51 611.90,128.99 C614.23,131.46 616.57,135.72 618.90,138.00 C621.23,140.29 623.87,141.31 625.90,142.72 C627.93,144.13 629.78,143.40 631.10,146.46 C632.42,149.52 632.92,155.19 633.80,161.08 C634.68,166.96 635.38,177.66 636.40,181.75 C637.42,185.84 638.73,184.52 639.90,185.61 C641.07,186.70 642.23,188.59 643.40,188.30 C644.57,188.01 645.88,183.90 646.90,183.90 C647.92,183.90 648.78,186.70 649.50,188.30 C650.22,189.90 650.92,192.63 651.20,193.50 L651.20,209.50 C650.92,208.63 650.22,205.90 649.50,204.30 C648.78,202.70 647.92,199.90 646.90,199.90 C645.88,199.90 644.57,204.02 643.40,204.30 C642.23,204.58 641.07,202.89 639.90,201.57 C638.73,200.26 637.42,200.87 636.40,196.40 C635.38,191.93 634.68,180.89 633.80,174.75 C632.92,168.61 632.42,162.62 631.10,159.54 C629.78,156.46 627.93,157.50 625.90,156.28 C623.87,155.05 621.23,154.27 618.90,152.20 C616.57,150.12 614.23,145.59 611.90,143.81 C609.57,142.04 606.93,142.16 604.90,141.54 C602.87,140.92 601.30,139.76 599.70,140.12 C598.10,140.48 596.75,141.05 595.30,143.68 C593.85,146.31 592.45,151.84 591.00,155.90 C589.55,159.96 588.65,166.03 586.60,168.04 C584.55,170.04 581.43,168.16 578.70,167.93 C575.97,167.70 572.77,167.00 570.20,166.64 C567.63,166.28 565.58,166.28 563.30,165.77 C561.02,165.27 558.78,164.23 556.50,163.61 C554.22,162.99 551.88,162.20 549.60,162.05 C547.32,161.90 545.08,162.90 542.80,162.71 C540.52,162.51 538.18,161.27 535.90,160.87 C533.62,160.48 531.38,160.63 529.10,160.35 C526.82,160.07 524.48,159.06 522.20,159.20 C519.92,159.34 517.68,160.92 515.40,161.17 C513.12,161.42 510.78,161.01 508.50,160.70 C506.22,160.39 503.98,160.06 501.70,159.30 C499.42,158.54 497.18,156.82 494.80,156.13 C492.42,155.44 489.63,155.01 487.40,155.15 C485.17,155.29 483.28,156.48 481.40,156.97 C479.52,157.47 477.87,158.20 476.10,158.13 C474.33,158.07 472.58,157.01 470.80,156.60 C469.02,156.18 467.42,156.19 465.40,155.67 C463.38,155.14 460.48,153.38 458.70,153.47 C456.92,153.55 456.25,154.74 454.70,156.17 C453.15,157.61 451.17,160.00 449.40,162.09 C447.63,164.18 445.88,166.52 444.10,168.70 C442.32,170.89 440.48,173.53 438.70,175.20 C436.92,176.88 435.08,177.38 433.40,178.74 C431.72,180.09 429.78,181.40 428.60,183.33 C427.42,185.26 427.00,187.63 426.30,190.30 C425.60,192.97 424.92,196.85 424.40,199.33 C423.88,201.81 423.77,203.62 423.20,205.18 C422.63,206.74 421.78,208.07 421.00,208.68 C420.22,209.29 419.33,209.26 418.50,208.85 C417.67,208.43 416.88,206.65 416.00,206.21 C415.12,205.77 413.67,206.20 413.20,206.20 Z" fill="#fde8f1"/>
<path d="M412.90,201.50 C413.62,201.47 415.75,201.80 417.20,201.35 C418.65,200.89 420.37,200.07 421.60,198.75 C422.83,197.42 423.67,195.45 424.60,193.38 C425.53,191.31 426.37,189.36 427.20,186.32 C428.03,183.29 428.90,178.37 429.60,175.18 C430.30,172.00 430.68,169.72 431.40,167.23 C432.12,164.74 432.87,162.33 433.90,160.26 C434.93,158.19 435.90,157.49 437.60,154.82 C439.30,152.16 442.13,147.74 444.10,144.27 C446.07,140.80 447.63,137.32 449.40,133.99 C451.17,130.66 452.92,127.09 454.70,124.31 C456.48,121.53 458.32,118.96 460.10,117.31 C461.88,115.65 463.62,115.24 465.40,114.38 C467.18,113.52 469.02,113.01 470.80,112.15 C472.58,111.29 474.33,110.19 476.10,109.22 C477.87,108.24 479.52,107.39 481.40,106.29 C483.28,105.19 485.17,103.63 487.40,102.63 C489.63,101.62 492.42,101.04 494.80,100.27 C497.18,99.50 499.42,98.61 501.70,98.00 C503.98,97.39 506.22,96.78 508.50,96.60 C510.78,96.42 513.12,96.95 515.40,96.90 C517.68,96.85 519.92,96.40 522.20,96.30 C524.48,96.20 526.82,96.17 529.10,96.30 C531.38,96.43 533.62,96.82 535.90,97.07 C538.18,97.32 540.52,97.45 542.80,97.81 C545.08,98.17 547.32,98.82 549.60,99.25 C551.88,99.67 554.22,100.24 556.50,100.38 C558.78,100.51 561.02,100.04 563.30,100.05 C565.58,100.06 567.75,100.15 570.20,100.42 C572.65,100.70 575.27,101.53 578.00,101.70 C580.73,101.87 584.43,103.04 586.60,101.46 C588.77,99.88 589.55,95.81 591.00,92.20 C592.45,88.59 594.00,81.80 595.30,79.82 C596.60,77.84 597.48,79.21 598.80,80.32 C600.12,81.43 601.60,84.09 603.20,86.48 C604.80,88.87 606.37,91.59 608.40,94.66 C610.43,97.73 613.07,101.59 615.40,104.90 C617.73,108.21 620.22,111.73 622.40,114.50 C624.58,117.27 627.05,119.60 628.50,121.50 C629.95,123.40 630.37,122.79 631.10,125.90 C631.83,129.01 632.17,134.10 632.90,140.14 C633.63,146.17 634.48,155.61 635.50,162.11 C636.52,168.61 637.68,175.93 639.00,179.12 C640.32,182.32 641.95,181.24 643.40,181.30 C644.85,181.36 646.48,180.82 647.70,179.50 C648.92,178.18 650.20,174.42 650.70,173.40 L650.70,189.40 C650.20,190.42 648.92,194.18 647.70,195.50 C646.48,196.82 644.85,197.30 643.40,197.30 C641.95,197.30 640.32,198.42 639.00,195.50 C637.68,192.58 636.52,185.92 635.50,179.80 C634.48,173.68 633.63,164.60 632.90,158.80 C632.17,153.00 631.83,147.98 631.10,144.98 C630.37,141.98 629.95,142.59 628.50,140.82 C627.05,139.05 624.58,136.94 622.40,134.37 C620.22,131.80 617.73,128.39 615.40,125.41 C613.07,122.43 610.43,118.90 608.40,116.51 C606.37,114.13 604.80,112.64 603.20,111.11 C601.60,109.57 600.12,107.70 598.80,107.29 C597.48,106.89 596.60,105.43 595.30,108.66 C594.00,111.89 592.45,121.23 591.00,126.70 C589.55,132.17 588.77,138.85 586.60,141.50 C584.43,144.15 580.73,142.72 578.00,142.60 C575.27,142.48 572.65,141.25 570.20,140.78 C567.75,140.30 565.58,139.97 563.30,139.75 C561.02,139.52 558.78,139.69 556.50,139.42 C554.22,139.15 551.88,138.60 549.60,138.12 C547.32,137.64 545.08,136.96 542.80,136.55 C540.52,136.15 538.18,135.98 535.90,135.69 C533.62,135.39 531.38,134.96 529.10,134.77 C526.82,134.58 524.48,134.52 522.20,134.54 C519.92,134.56 517.68,135.05 515.40,134.91 C513.12,134.78 510.78,133.85 508.50,133.73 C506.22,133.62 503.98,134.02 501.70,134.23 C499.42,134.43 497.18,134.71 494.80,134.97 C492.42,135.23 489.63,134.78 487.40,135.78 C485.17,136.79 483.28,139.42 481.40,141.01 C479.52,142.60 477.87,143.88 476.10,145.32 C474.33,146.76 472.58,148.31 470.80,149.63 C469.02,150.96 467.18,152.47 465.40,153.28 C463.62,154.09 461.88,153.46 460.10,154.49 C458.32,155.53 456.48,157.37 454.70,159.49 C452.92,161.61 451.17,164.54 449.40,167.21 C447.63,169.88 446.07,172.81 444.10,175.53 C442.13,178.25 439.30,181.73 437.60,183.55 C435.90,185.36 434.93,185.07 433.90,186.42 C432.87,187.78 432.12,189.67 431.40,191.66 C430.68,193.65 430.30,195.67 429.60,198.37 C428.90,201.07 428.03,205.40 427.20,207.85 C426.37,210.29 425.53,211.72 424.60,213.02 C423.67,214.32 422.83,215.45 421.60,215.65 C420.37,215.86 418.65,214.95 417.20,214.25 C415.75,213.56 413.62,211.96 412.90,211.50 Z" fill="#dfe0d9" clip-path="url(#clipC)"/>
<rect x="412.50" y="59.90" width="4.60" height="189.50" fill="#262626"/>
<rect x="412.50" y="244.80" width="239.90" height="4.60" fill="#262626"/>
<rect x="416.60" y="245.30" width="3.30" height="3.60" fill="#262626"/>
<rect x="416.60" y="208.22" width="3.30" height="3.60" fill="#262626"/>
<rect x="416.60" y="171.14" width="3.30" height="3.60" fill="#262626"/>
<rect x="416.60" y="134.06" width="3.30" height="3.60" fill="#262626"/>
<rect x="416.60" y="96.98" width="3.30" height="3.60" fill="#262626"/>
<rect x="416.60" y="59.90" width="3.30" height="3.60" fill="#262626"/>
<rect x="460.16" y="242.00" width="3.60" height="3.30" fill="#262626"/>
<rect x="507.32" y="242.00" width="3.60" height="3.30" fill="#262626"/>
<rect x="554.48" y="242.00" width="3.60" height="3.30" fill="#262626"/>
<rect x="601.64" y="242.00" width="3.60" height="3.30" fill="#262626"/>
<rect x="648.80" y="242.00" width="3.60" height="3.30" fill="#262626"/>
<path d="M412.90,206.50 C413.62,206.72 415.75,207.68 417.20,207.80 C418.65,207.92 420.37,207.97 421.60,207.20 C422.83,206.43 423.67,204.90 424.60,203.20 C425.53,201.50 426.37,199.77 427.20,197.00 C428.03,194.23 428.90,189.57 429.60,186.60 C430.30,183.63 430.68,181.47 431.40,179.20 C432.12,176.93 432.87,174.75 433.90,173.00 C434.93,171.25 435.90,170.97 437.60,168.70 C439.30,166.43 442.13,162.50 444.10,159.40 C446.07,156.30 447.63,153.10 449.40,150.10 C451.17,147.10 452.92,143.85 454.70,141.40 C456.48,138.95 458.32,136.73 460.10,135.40 C461.88,134.07 463.62,134.07 465.40,133.40 C467.18,132.73 469.02,132.18 470.80,131.40 C472.58,130.62 474.33,129.60 476.10,128.70 C477.87,127.80 479.52,127.02 481.40,126.00 C483.28,124.98 485.17,123.65 487.40,122.60 C489.63,121.55 492.42,120.63 494.80,119.70 C497.18,118.77 499.42,117.68 501.70,117.00 C503.98,116.32 506.22,115.78 508.50,115.60 C510.78,115.42 513.12,115.95 515.40,115.90 C517.68,115.85 519.92,115.40 522.20,115.30 C524.48,115.20 526.82,115.13 529.10,115.30 C531.38,115.47 533.62,115.97 535.90,116.30 C538.18,116.63 540.52,116.85 542.80,117.30 C545.08,117.75 547.32,118.48 549.60,119.00 C551.88,119.52 554.22,120.17 556.50,120.40 C558.78,120.63 561.02,120.28 563.30,120.40 C565.58,120.52 567.75,120.73 570.20,121.10 C572.65,121.47 575.27,122.53 578.00,122.60 C580.73,122.67 584.43,123.48 586.60,121.50 C588.77,119.52 589.55,114.83 591.00,110.70 C592.45,106.57 594.00,99.18 595.30,96.70 C596.60,94.22 597.48,95.22 598.80,95.80 C600.12,96.38 601.60,98.45 603.20,100.20 C604.80,101.95 606.37,103.68 608.40,106.30 C610.43,108.92 613.07,112.70 615.40,115.90 C617.73,119.10 620.22,122.73 622.40,125.50 C624.58,128.27 627.05,130.60 628.50,132.50 C629.95,134.40 630.37,133.85 631.10,136.90 C631.83,139.95 632.17,144.98 632.90,150.80 C633.63,156.62 634.48,165.68 635.50,171.80 C636.52,177.92 637.68,184.58 639.00,187.50 C640.32,190.42 641.95,189.30 643.40,189.30 C644.85,189.30 646.48,188.82 647.70,187.50 C648.92,186.18 650.20,182.42 650.70,181.40" fill="none" stroke="#1ef21e" stroke-width="4" stroke-linejoin="round" stroke-linecap="butt"/>
<path d="M413.20,201.20 C413.67,201.05 415.12,200.20 416.00,200.30 C416.88,200.40 417.67,201.77 418.50,201.80 C419.33,201.83 420.22,201.47 421.00,200.50 C421.78,199.53 422.63,197.82 423.20,196.00 C423.77,194.18 423.88,192.27 424.40,189.60 C424.92,186.93 425.60,182.85 426.30,180.00 C427.00,177.15 427.42,174.70 428.60,172.50 C429.78,170.30 431.72,168.53 433.40,166.80 C435.08,165.07 436.92,164.10 438.70,162.10 C440.48,160.10 442.32,157.25 444.10,154.80 C445.88,152.35 447.63,149.75 449.40,147.40 C451.17,145.05 453.15,142.37 454.70,140.70 C456.25,139.03 456.92,137.73 458.70,137.40 C460.48,137.07 463.38,138.25 465.40,138.70 C467.42,139.15 469.02,139.53 470.80,140.10 C472.58,140.67 474.33,141.88 476.10,142.10 C477.87,142.32 479.52,141.73 481.40,141.40 C483.28,141.07 485.17,140.33 487.40,140.10 C489.63,139.87 492.42,139.63 494.80,140.00 C497.18,140.37 499.42,141.68 501.70,142.30 C503.98,142.92 506.22,143.40 508.50,143.70 C510.78,144.00 513.12,144.55 515.40,144.10 C517.68,143.65 519.92,141.52 522.20,141.00 C524.48,140.48 526.82,140.90 529.10,141.00 C531.38,141.10 533.62,141.15 535.90,141.60 C538.18,142.05 540.52,143.42 542.80,143.70 C545.08,143.98 547.32,143.07 549.60,143.30 C551.88,143.53 554.22,144.47 556.50,145.10 C558.78,145.73 561.02,146.65 563.30,147.10 C565.58,147.55 567.63,147.47 570.20,147.80 C572.77,148.13 575.97,148.73 578.70,149.10 C581.43,149.47 584.55,151.45 586.60,150.00 C588.65,148.55 589.55,143.60 591.00,140.40 C592.45,137.20 593.85,132.70 595.30,130.80 C596.75,128.90 598.10,128.72 599.70,129.00 C601.30,129.28 602.87,131.18 604.90,132.50 C606.93,133.82 609.57,134.72 611.90,136.90 C614.23,139.08 616.57,143.42 618.90,145.60 C621.23,147.78 623.87,148.68 625.90,150.00 C627.93,151.32 629.78,150.45 631.10,153.50 C632.42,156.55 632.92,162.33 633.80,168.30 C634.68,174.27 635.38,185.08 636.40,189.30 C637.42,193.52 638.73,192.43 639.90,193.60 C641.07,194.77 642.23,196.58 643.40,196.30 C644.57,196.02 645.88,191.90 646.90,191.90 C647.92,191.90 648.78,194.70 649.50,196.30 C650.22,197.90 650.92,200.63 651.20,201.50" fill="none" stroke="#ff69b4" stroke-width="4" stroke-linejoin="round" stroke-linecap="butt"/>
<rect x="577.70" y="62.60" width="4.60" height="10.50" fill="#4a0094"/>
<rect x="577.70" y="84.45" width="4.60" height="10.50" fill="#4a0094"/>
<rect x="577.70" y="106.30" width="4.60" height="10.50" fill="#4a0094"/>
<rect x="577.70" y="128.15" width="4.60" height="10.50" fill="#4a0094"/>
<rect x="577.70" y="150.00" width="4.60" height="10.50" fill="#4a0094"/>
<rect x="577.70" y="171.85" width="4.60" height="10.50" fill="#4a0094"/>
<rect x="577.70" y="193.70" width="4.60" height="10.50" fill="#4a0094"/>
<rect x="577.70" y="215.55" width="4.60" height="10.50" fill="#4a0094"/>
<rect x="577.70" y="237.40" width="4.60" height="10.40" fill="#4a0094"/>
<rect x="601.20" y="61.70" width="4.60" height="186.10" fill="#4a0094"/>
<path d="M82.00,444.00 C83.00,445.00 86.17,451.00 88.00,450.00 C89.83,449.00 91.50,438.67 93.00,438.00 C94.50,437.33 95.43,443.62 97.00,446.00 C98.57,448.38 99.68,449.37 102.40,452.30 C105.12,455.23 109.95,458.63 113.30,463.60 C116.65,468.57 119.73,477.48 122.50,482.10 C125.27,486.72 128.05,490.68 129.90,491.30 C131.75,491.92 131.45,483.63 133.60,485.80 C135.75,487.97 140.03,498.45 142.80,504.30 C145.57,510.15 147.73,519.05 150.20,520.90 C152.67,522.75 154.52,518.17 157.60,515.40 C160.68,512.63 165.80,506.15 168.70,504.30 C171.60,502.45 172.10,505.85 175.00,504.30 C177.90,502.75 182.40,498.70 186.10,495.00 C189.80,491.30 194.43,483.95 197.20,482.10 C199.97,480.25 200.85,486.07 202.70,483.90 C204.55,481.73 206.13,473.57 208.30,469.10 C210.47,464.63 213.55,458.33 215.70,457.10 C217.85,455.87 219.05,459.70 221.20,461.70 C223.35,463.70 226.45,466.32 228.60,469.10 C230.75,471.88 232.25,475.93 234.10,478.40 C235.95,480.87 237.85,484.52 239.70,483.90 C241.55,483.28 243.35,477.17 245.20,474.70 C247.05,472.23 248.63,469.25 250.80,469.10 C252.97,468.95 255.85,472.77 258.20,473.80 C260.55,474.83 262.42,477.52 264.90,475.30 C267.38,473.08 270.65,464.60 273.10,460.50 C275.55,456.40 277.68,454.80 279.60,450.70 C281.52,446.60 282.68,438.92 284.60,435.90 C286.52,432.88 288.92,435.35 291.10,432.60 C293.28,429.85 295.50,422.97 297.70,419.40 C299.90,415.83 302.52,414.48 304.30,411.20 C306.08,407.92 307.17,401.33 308.40,399.70 C309.63,398.07 310.93,403.85 311.70,401.40 C312.47,398.95 312.67,391.23 313.00,385.00 C313.33,378.77 313.47,364.00 313.70,364.00 C313.93,364.00 314.18,377.33 314.40,385.00 C314.62,392.67 314.90,405.83 315.00,410.00 L315.00,410.00 C314.78,425.83 314.12,500.97 313.70,505.00 C313.28,509.03 313.52,445.17 312.50,434.20 C311.48,423.23 309.25,436.45 307.60,439.20 C305.95,441.95 304.52,448.78 302.60,450.70 C300.68,452.62 298.55,449.88 296.10,450.70 C293.65,451.52 290.37,454.52 287.90,455.60 C285.43,456.68 283.50,453.37 281.30,457.20 C279.10,461.03 276.90,470.65 274.70,478.60 C272.50,486.55 269.93,496.32 268.10,504.90 C266.27,513.48 265.35,525.58 263.70,530.10 C262.05,534.62 260.05,532.30 258.20,532.00 C256.35,531.70 254.77,527.07 252.60,528.30 C250.43,529.53 247.67,534.78 245.20,539.40 C242.73,544.02 240.27,552.93 237.80,556.00 C235.33,559.07 232.87,556.57 230.40,557.80 C227.93,559.03 225.45,563.40 223.00,563.40 C220.55,563.40 218.15,557.80 215.70,557.80 C213.25,557.80 211.38,560.93 208.30,563.40 C205.22,565.87 200.90,569.52 197.20,572.60 C193.50,575.68 189.00,580.35 186.10,581.90 C183.20,583.45 181.65,582.20 179.80,581.90 C177.95,581.60 176.55,580.80 175.00,580.10 C173.45,579.40 172.47,578.10 170.50,577.70 C168.53,577.30 165.63,578.12 163.20,577.70 C160.77,577.28 158.13,575.40 155.90,575.20 C153.67,575.00 151.83,576.90 149.80,576.50 C147.77,576.10 145.73,573.62 143.70,572.80 C141.67,571.98 139.63,572.82 137.60,571.60 C135.57,570.38 133.32,567.73 131.50,565.50 C129.68,563.27 128.32,562.27 126.70,558.20 C125.08,554.13 123.43,546.38 121.80,541.10 C120.17,535.82 118.53,530.95 116.90,526.50 C115.27,522.05 113.62,518.45 112.00,514.40 C110.38,510.35 108.82,506.60 107.20,502.20 C105.58,497.80 103.58,492.87 102.30,488.00 C101.02,483.13 100.55,477.33 99.50,473.00 C98.45,468.67 97.25,465.50 96.00,462.00 C94.75,458.50 93.67,452.00 92.00,452.00 C90.33,452.00 87.67,462.00 86.00,462.00 C84.33,462.00 82.67,453.67 82.00,452.00 Z" fill="#ececec"/>
<rect x="79.60" y="353.10" width="4.60" height="236.80" fill="#262626"/>
<rect x="79.60" y="585.30" width="237.20" height="4.60" fill="#262626"/>
<rect x="83.70" y="585.80" width="3.30" height="3.60" fill="#262626"/>
<rect x="83.70" y="547.02" width="3.30" height="3.60" fill="#262626"/>
<rect x="83.70" y="508.23" width="3.30" height="3.60" fill="#262626"/>
<rect x="83.70" y="469.45" width="3.30" height="3.60" fill="#262626"/>
<rect x="83.70" y="430.67" width="3.30" height="3.60" fill="#262626"/>
<rect x="83.70" y="391.88" width="3.30" height="3.60" fill="#262626"/>
<rect x="83.70" y="353.10" width="3.30" height="3.60" fill="#262626"/>
<rect x="126.72" y="582.50" width="3.60" height="3.30" fill="#262626"/>
<rect x="173.34" y="582.50" width="3.60" height="3.30" fill="#262626"/>
<rect x="219.96" y="582.50" width="3.60" height="3.30" fill="#262626"/>
<rect x="266.58" y="582.50" width="3.60" height="3.30" fill="#262626"/>
<rect x="313.20" y="582.50" width="3.60" height="3.30" fill="#262626"/>
<rect x="81.80" y="430.40" width="12.20" height="3.80" fill="#969696"/>
<rect x="106.55" y="430.40" width="12.20" height="3.80" fill="#969696"/>
<rect x="131.30" y="430.40" width="12.20" height="3.80" fill="#969696"/>
<rect x="156.05" y="430.40" width="12.20" height="3.80" fill="#969696"/>
<rect x="180.80" y="430.40" width="12.20" height="3.80" fill="#969696"/>
<rect x="205.55" y="430.40" width="12.20" height="3.80" fill="#969696"/>
<rect x="230.30" y="430.40" width="12.20" height="3.80" fill="#969696"/>
<rect x="255.05" y="430.40" width="12.20" height="3.80" fill="#969696"/>
<rect x="279.80" y="430.40" width="12.20" height="3.80" fill="#969696"/>
<rect x="304.55" y="430.40" width="11.45" height="3.80" fill="#969696"/>
<path id="bline" d="M82.30,448.00 C82.53,452.43 83.08,471.27 83.70,474.60 C84.32,477.93 85.27,470.05 86.00,468.00 C86.73,465.95 87.33,464.43 88.10,462.30 C88.87,460.17 89.77,458.85 90.60,455.20 C91.43,451.55 92.33,441.37 93.10,440.40 C93.87,439.43 94.37,446.10 95.20,449.40 C96.03,452.70 97.32,457.57 98.10,460.20 C98.88,462.83 99.42,463.28 99.90,465.20 C100.38,467.12 100.33,470.38 101.00,471.70 C101.67,473.02 102.95,472.03 103.90,473.10 C104.85,474.17 105.63,476.18 106.70,478.10 C107.77,480.02 109.10,482.32 110.30,484.60 C111.50,486.88 112.78,488.83 113.90,491.80 C115.02,494.77 115.57,498.63 117.00,502.40 C118.43,506.17 120.65,510.23 122.50,514.40 C124.35,518.57 126.25,525.55 128.10,527.40 C129.95,529.25 131.77,524.12 133.60,525.50 C135.43,526.88 137.40,533.70 139.10,535.70 C140.80,537.70 142.25,535.50 143.80,537.50 C145.35,539.50 147.17,545.53 148.40,547.70 C149.63,549.87 149.67,550.80 151.20,550.50 C152.73,550.20 155.30,547.13 157.60,545.90 C159.90,544.67 162.53,544.18 165.00,543.10 C167.47,542.02 169.97,539.40 172.40,539.40 C174.83,539.40 177.63,543.42 179.60,543.10 C181.57,542.78 182.50,538.73 184.20,537.50 C185.90,536.27 187.78,537.23 189.80,535.70 C191.82,534.17 194.30,529.08 196.30,528.30 C198.30,527.52 199.97,532.55 201.80,531.00 C203.63,529.45 205.45,522.68 207.30,519.00 C209.15,515.32 211.20,510.43 212.90,508.90 C214.60,507.37 215.97,508.88 217.50,509.80 C219.03,510.72 220.72,513.48 222.10,514.40 C223.48,515.32 224.57,515.60 225.80,515.30 C227.03,515.00 228.12,511.98 229.50,512.60 C230.88,513.22 232.55,517.47 234.10,519.00 C235.65,520.53 237.25,522.42 238.80,521.80 C240.35,521.18 241.87,518.53 243.40,515.30 C244.93,512.07 246.47,505.02 248.00,502.40 C249.53,499.78 250.88,499.23 252.60,499.60 C254.32,499.97 256.53,504.33 258.30,504.60 C260.07,504.87 261.57,503.90 263.20,501.20 C264.83,498.50 266.58,491.62 268.10,488.40 C269.62,485.18 270.92,483.53 272.30,481.90 C273.68,480.27 275.18,481.62 276.40,478.60 C277.62,475.58 278.37,468.87 279.60,463.80 C280.83,458.73 282.42,451.48 283.80,448.20 C285.18,444.92 286.40,444.92 287.90,444.10 C289.40,443.28 291.30,443.85 292.80,443.30 C294.30,442.75 295.80,442.10 296.90,440.80 C298.00,439.50 298.57,437.43 299.40,435.50 C300.23,433.57 301.07,429.92 301.90,429.20 C302.73,428.48 303.63,432.65 304.40,431.20 C305.17,429.75 305.80,422.73 306.50,420.50 C307.20,418.27 307.77,415.72 308.60,417.80 C309.43,419.88 311.50,433.00 311.50,433.00 C311.50,433.00 313.38,417.90 313.90,414.50 C314.42,411.10 314.60,412.60 314.60,412.60 C314.60,412.60 314.88,430.65 314.95,440.00 C315.02,449.35 315.00,468.70 315.00,468.70" fill="none" stroke="#8f8f8f" stroke-width="4.2" stroke-linejoin="round"/>
<path d="M415.50,398.00 C415.92,397.67 416.93,399.93 418.00,396.00 C419.07,392.07 420.87,377.00 421.90,374.40 C422.93,371.80 423.18,382.68 424.20,380.40 C425.22,378.12 426.73,361.97 428.00,360.70 C429.27,359.43 430.15,368.75 431.80,372.80 C433.45,376.85 435.62,382.47 437.90,385.00 C440.18,387.53 442.47,387.23 445.50,388.00 C448.53,388.77 453.57,387.82 456.10,389.60 C458.63,391.38 459.17,394.65 460.70,398.70 C462.23,402.75 463.27,408.83 465.30,413.90 C467.33,418.97 470.37,423.67 472.90,429.10 C475.43,434.53 477.65,440.43 480.50,446.50 C483.35,452.57 486.78,459.48 490.00,465.50 C493.22,471.52 496.90,477.72 499.80,482.60 C502.70,487.48 504.37,492.27 507.40,494.80 C510.43,497.33 515.22,498.82 518.00,497.80 C520.78,496.78 521.82,489.97 524.10,488.70 C526.38,487.43 528.90,490.70 531.70,490.20 C534.50,489.70 538.35,486.20 540.90,485.70 C543.45,485.20 544.72,488.22 547.00,487.20 C549.28,486.18 552.07,479.60 554.60,479.60 C557.13,479.60 559.42,485.43 562.20,487.20 C564.98,488.97 568.63,490.12 571.30,490.20 C573.97,490.28 575.68,486.58 578.20,487.70 C580.72,488.82 583.50,492.45 586.40,496.90 C589.30,501.35 592.87,513.37 595.60,514.40 C598.33,515.43 599.88,508.75 602.80,503.10 C605.72,497.45 610.02,484.95 613.10,480.50 C616.18,476.05 618.57,480.50 621.30,476.40 C624.03,472.30 627.10,464.45 629.50,455.90 C631.90,447.35 633.98,432.28 635.70,425.10 C637.42,417.92 638.43,412.80 639.80,412.80 C641.17,412.80 642.60,428.52 643.90,425.10 C645.20,421.68 646.52,394.68 647.60,392.30 C648.68,389.92 649.75,397.85 650.40,410.80 C651.05,423.75 651.32,460.13 651.50,470.00 L651.50,470.00 C651.42,478.93 651.33,521.93 651.00,523.60 C650.67,525.27 650.35,489.57 649.50,480.00 C648.65,470.43 647.18,467.13 645.90,466.20 C644.62,465.27 643.50,472.70 641.80,474.40 C640.10,476.10 637.75,470.93 635.70,476.40 C633.65,481.87 631.90,498.65 629.50,507.20 C627.10,515.75 624.38,521.55 621.30,527.70 C618.22,533.85 613.90,537.93 611.00,544.10 C608.10,550.27 606.28,559.22 603.90,564.70 C601.52,570.18 598.58,577.00 596.70,577.00 C594.82,577.00 594.32,569.50 592.60,564.70 C590.88,559.90 588.80,551.63 586.40,548.20 C584.00,544.77 580.72,544.88 578.20,544.10 C575.68,543.32 573.97,543.85 571.30,543.50 C568.63,543.15 564.98,543.27 562.20,542.00 C559.42,540.73 557.13,535.40 554.60,535.90 C552.07,536.40 549.28,544.75 547.00,545.00 C544.72,545.25 543.18,538.42 540.90,537.40 C538.62,536.38 535.83,538.90 533.30,538.90 C530.77,538.90 527.98,536.13 525.70,537.40 C523.42,538.67 522.15,544.72 519.60,546.50 C517.05,548.28 512.93,550.12 510.40,548.10 C507.87,546.08 506.17,539.23 504.40,534.40 C502.63,529.57 502.35,523.17 499.80,519.10 C497.25,515.03 492.40,513.03 489.10,510.00 C485.80,506.97 482.20,504.23 480.00,500.90 C477.80,497.57 477.08,493.33 475.90,490.00 C474.72,486.67 474.42,484.70 472.90,480.90 C471.38,477.10 468.83,471.77 466.80,467.20 C464.77,462.63 462.73,457.82 460.70,453.50 C458.67,449.18 457.13,444.85 454.60,441.30 C452.07,437.75 448.53,434.73 445.50,432.20 C442.47,429.67 438.93,428.90 436.40,426.10 C433.87,423.30 431.83,417.93 430.30,415.40 C428.77,412.87 428.73,411.15 427.20,410.90 C425.67,410.65 422.87,413.15 421.10,413.90 C419.33,414.65 417.53,415.22 416.60,415.40 C415.67,415.58 415.68,415.07 415.50,415.00 Z" fill="#ececec"/>
<rect x="412.70" y="355.10" width="4.60" height="234.90" fill="#262626"/>
<rect x="412.70" y="585.40" width="240.10" height="4.60" fill="#262626"/>
<rect x="416.80" y="585.90" width="3.30" height="3.60" fill="#262626"/>
<rect x="416.80" y="552.93" width="3.30" height="3.60" fill="#262626"/>
<rect x="416.80" y="519.96" width="3.30" height="3.60" fill="#262626"/>
<rect x="416.80" y="486.99" width="3.30" height="3.60" fill="#262626"/>
<rect x="416.80" y="454.01" width="3.30" height="3.60" fill="#262626"/>
<rect x="416.80" y="421.04" width="3.30" height="3.60" fill="#262626"/>
<rect x="416.80" y="388.07" width="3.30" height="3.60" fill="#262626"/>
<rect x="416.80" y="355.10" width="3.30" height="3.60" fill="#262626"/>
<rect x="460.40" y="582.60" width="3.60" height="3.30" fill="#262626"/>
<rect x="507.60" y="582.60" width="3.60" height="3.30" fill="#262626"/>
<rect x="554.80" y="582.60" width="3.60" height="3.30" fill="#262626"/>
<rect x="602.00" y="582.60" width="3.60" height="3.30" fill="#262626"/>
<rect x="649.20" y="582.60" width="3.60" height="3.30" fill="#262626"/>
<rect x="415.00" y="421.00" width="12.20" height="3.80" fill="#969696"/>
<rect x="440.09" y="421.00" width="12.20" height="3.80" fill="#969696"/>
<rect x="465.18" y="421.00" width="12.20" height="3.80" fill="#969696"/>
<rect x="490.27" y="421.00" width="12.20" height="3.80" fill="#969696"/>
<rect x="515.36" y="421.00" width="12.20" height="3.80" fill="#969696"/>
<rect x="540.45" y="421.00" width="12.20" height="3.80" fill="#969696"/>
<rect x="565.54" y="421.00" width="12.20" height="3.80" fill="#969696"/>
<rect x="590.63" y="421.00" width="12.20" height="3.80" fill="#969696"/>
<rect x="615.72" y="421.00" width="12.20" height="3.80" fill="#969696"/>
<rect x="640.81" y="421.00" width="11.19" height="3.80" fill="#969696"/>
<path d="M415.50,401.80 C415.63,403.00 416.00,407.23 416.30,409.00 C416.60,410.77 416.80,412.33 417.30,412.40 C417.80,412.47 418.67,411.68 419.30,409.40 C419.93,407.12 420.42,400.73 421.10,398.70 C421.78,396.67 422.63,397.20 423.40,397.20 C424.17,397.20 424.93,400.73 425.70,398.70 C426.47,396.67 427.23,386.78 428.00,385.00 C428.77,383.22 429.42,386.22 430.30,388.00 C431.18,389.78 432.17,392.90 433.30,395.70 C434.43,398.50 435.58,402.52 437.10,404.80 C438.62,407.08 440.50,408.13 442.40,409.40 C444.30,410.67 446.47,411.13 448.50,412.40 C450.53,413.67 453.07,415.60 454.60,417.00 C456.13,418.40 456.68,418.78 457.70,420.80 C458.72,422.82 459.43,425.43 460.70,429.10 C461.97,432.77 463.78,439.50 465.30,442.80 C466.82,446.10 468.53,446.62 469.80,448.90 C471.07,451.18 471.63,453.12 472.90,456.50 C474.17,459.88 476.13,466.20 477.40,469.20 C478.67,472.20 479.05,472.02 480.50,474.50 C481.95,476.98 484.15,480.97 486.10,484.10 C488.05,487.23 490.17,490.88 492.20,493.30 C494.23,495.72 496.65,496.83 498.30,498.60 C499.95,500.37 500.97,501.23 502.10,503.90 C503.23,506.57 503.72,511.68 505.10,514.60 C506.48,517.52 508.75,520.13 510.40,521.40 C512.05,522.67 513.60,521.93 515.00,522.20 C516.40,522.47 517.53,524.27 518.80,523.00 C520.07,521.73 521.33,516.25 522.60,514.60 C523.87,512.95 525.00,512.98 526.40,513.10 C527.80,513.22 528.97,515.57 531.00,515.30 C533.03,515.03 536.20,511.23 538.60,511.50 C541.00,511.77 543.50,517.02 545.40,516.90 C547.30,516.78 548.47,512.45 550.00,510.80 C551.53,509.15 553.08,506.75 554.60,507.00 C556.12,507.25 557.58,510.78 559.10,512.30 C560.62,513.82 561.67,515.22 563.70,516.10 C565.73,516.98 569.05,517.88 571.30,517.60 C573.55,517.32 575.37,514.08 577.20,514.40 C579.03,514.72 580.60,517.97 582.30,519.50 C584.00,521.03 585.87,520.87 587.40,523.60 C588.93,526.33 590.13,532.30 591.50,535.90 C592.87,539.50 594.05,544.68 595.60,545.20 C597.15,545.72 599.08,541.40 600.80,539.00 C602.52,536.60 604.20,534.73 605.90,530.80 C607.60,526.87 608.95,519.17 611.00,515.40 C613.05,511.63 615.97,511.78 618.20,508.20 C620.43,504.62 622.52,497.48 624.40,493.90 C626.28,490.32 628.30,488.93 629.50,486.70 C630.70,484.47 630.75,485.97 631.60,480.50 C632.45,475.03 633.58,459.70 634.60,453.90 C635.62,448.10 636.67,447.75 637.70,445.70 C638.73,443.65 639.77,441.10 640.80,441.60 C641.83,442.10 642.88,450.25 643.90,448.70 C644.92,447.15 646.05,434.52 646.90,432.30 C647.75,430.08 648.38,429.75 649.00,435.40 C649.62,441.05 650.23,456.12 650.60,466.20 C650.97,476.28 651.10,490.95 651.20,495.90" fill="none" stroke="#8f8f8f" stroke-width="4.2" stroke-linejoin="round"/>
<rect x="178.00" y="686.60" width="4.60" height="234.20" fill="#262626"/>
<rect x="178.00" y="916.20" width="236.10" height="4.60" fill="#262626"/>
<rect x="182.10" y="916.70" width="3.30" height="3.60" fill="#262626"/>
<rect x="182.10" y="891.13" width="3.30" height="3.60" fill="#262626"/>
<rect x="182.10" y="865.57" width="3.30" height="3.60" fill="#262626"/>
<rect x="182.10" y="840.00" width="3.30" height="3.60" fill="#262626"/>
<rect x="182.10" y="814.43" width="3.30" height="3.60" fill="#262626"/>
<rect x="182.10" y="788.87" width="3.30" height="3.60" fill="#262626"/>
<rect x="182.10" y="763.30" width="3.30" height="3.60" fill="#262626"/>
<rect x="182.10" y="737.73" width="3.30" height="3.60" fill="#262626"/>
<rect x="182.10" y="712.17" width="3.30" height="3.60" fill="#262626"/>
<rect x="182.10" y="686.60" width="3.30" height="3.60" fill="#262626"/>
<rect x="224.90" y="913.40" width="3.60" height="3.30" fill="#262626"/>
<rect x="271.30" y="913.40" width="3.60" height="3.30" fill="#262626"/>
<rect x="317.70" y="913.40" width="3.60" height="3.30" fill="#262626"/>
<rect x="364.10" y="913.40" width="3.60" height="3.30" fill="#262626"/>
<rect x="410.50" y="913.40" width="3.60" height="3.30" fill="#262626"/>
<path d="M180.70,760.01 C180.93,765.86 181.48,790.69 182.09,795.08 C182.71,799.48 183.65,789.08 184.38,786.38 C185.11,783.68 185.71,781.68 186.47,778.87 C187.23,776.05 188.13,774.32 188.96,769.51 C189.79,764.69 190.68,751.27 191.45,749.99 C192.21,748.72 192.71,757.51 193.54,761.86 C194.37,766.21 195.64,772.63 196.42,776.10 C197.20,779.57 197.73,780.16 198.22,782.69 C198.70,785.22 198.65,789.52 199.31,791.26 C199.97,793.00 201.25,791.70 202.20,793.11 C203.14,794.51 203.92,797.17 204.98,799.70 C206.04,802.22 207.37,805.26 208.57,808.27 C209.76,811.28 211.04,813.85 212.15,817.76 C213.26,821.67 213.81,826.77 215.23,831.74 C216.66,836.70 218.87,842.06 220.71,847.56 C222.55,853.05 224.44,862.26 226.28,864.70 C228.12,867.14 229.93,860.37 231.76,862.19 C233.58,864.02 235.54,873.00 237.23,875.64 C238.92,878.28 240.37,875.38 241.91,878.01 C243.45,880.65 245.26,888.60 246.49,891.46 C247.71,894.32 247.75,895.55 249.27,895.15 C250.80,894.76 253.35,890.71 255.64,889.09 C257.93,887.46 260.55,886.82 263.01,885.40 C265.46,883.97 267.95,880.52 270.37,880.52 C272.79,880.52 275.58,885.81 277.54,885.40 C279.50,884.98 280.43,879.64 282.12,878.01 C283.81,876.39 285.68,877.66 287.69,875.64 C289.70,873.62 292.17,866.92 294.16,865.88 C296.15,864.85 297.81,871.49 299.63,869.44 C301.46,867.40 303.27,858.48 305.11,853.62 C306.95,848.77 308.99,842.33 310.68,840.31 C312.37,838.28 313.73,840.28 315.26,841.49 C316.79,842.70 318.46,846.35 319.84,847.56 C321.22,848.77 322.29,849.14 323.52,848.74 C324.75,848.35 325.83,844.37 327.20,845.18 C328.58,846.00 330.24,851.60 331.78,853.62 C333.32,855.64 334.92,858.13 336.46,857.31 C338.00,856.50 339.51,853.01 341.04,848.74 C342.56,844.48 344.09,835.19 345.62,831.74 C347.14,828.29 348.49,827.56 350.19,828.04 C351.90,828.53 354.11,834.28 355.87,834.64 C357.63,834.99 359.12,833.71 360.74,830.15 C362.37,826.59 364.11,817.52 365.62,813.28 C367.13,809.04 368.42,806.86 369.80,804.71 C371.18,802.55 372.67,804.33 373.88,800.36 C375.09,796.38 375.84,787.52 377.07,780.84 C378.29,774.16 379.87,764.61 381.25,760.28 C382.62,755.95 383.83,755.95 385.33,754.87 C386.82,753.79 388.71,754.54 390.20,753.82 C391.70,753.09 393.19,752.23 394.29,750.52 C395.38,748.81 395.94,746.08 396.77,743.53 C397.60,740.98 398.43,736.17 399.26,735.23 C400.09,734.28 400.99,739.78 401.75,737.86 C402.51,735.95 403.14,726.70 403.84,723.76 C404.54,720.81 405.10,717.45 405.93,720.20 C406.76,722.94 408.82,740.24 408.82,740.24 C408.82,740.24 410.69,720.33 411.21,715.85 C411.72,711.36 411.90,713.34 411.90,713.34 C411.90,713.34 412.18,737.14 412.25,749.47 C412.32,761.79 412.30,787.30 412.30,787.30" fill="none" stroke="#a0a0a0" stroke-width="4" stroke-linejoin="round"/>
<path d="M180.30,764.90 L182.30,767.55 L184.30,770.38 L186.30,773.37 L188.30,776.51 L190.30,779.79 L192.30,783.20 L194.30,786.72 L196.30,790.34 L198.30,794.05 L200.30,797.84 L202.30,801.68 L204.30,805.58 L206.30,809.51 L208.30,813.47 L210.30,817.45 L212.30,821.42 L214.30,825.38 L216.30,829.31 L218.30,833.21 L220.30,837.07 L222.30,840.88 L224.30,844.64 L226.30,848.32 L228.30,851.94 L230.30,855.47 L232.30,858.90 L234.30,862.24 L236.30,865.47 L238.30,868.59 L240.30,871.58 L242.30,874.43 L244.30,877.13 L246.30,879.65 L248.30,881.98 L250.30,884.09 L252.30,885.96 L254.30,887.58 L256.30,888.94 L258.30,890.06 L260.30,890.92 L262.30,891.55 L264.30,891.93 L266.30,892.08 L268.30,892.01 L270.30,891.74 L272.30,891.30 L274.30,890.68 L276.30,889.93 L278.30,889.05 L280.30,888.05 L282.30,886.94 L284.30,885.72 L286.30,884.39 L288.30,882.96 L290.30,881.44 L292.30,879.82 L294.30,878.12 L296.30,876.34 L298.30,874.48 L300.30,872.54 L302.30,870.53 L304.30,868.46 L306.30,866.33 L308.30,864.15 L310.30,861.91 L312.30,859.63 L314.30,857.30 L316.30,854.94 L318.30,852.54 L320.30,850.11 L322.30,847.66 L324.30,845.19 L326.30,842.71 L328.30,840.21 L330.30,837.71 L332.30,835.20 L334.30,832.70 L336.30,830.20 L338.30,827.72 L340.30,825.25 L342.30,822.80 L344.30,820.38 L346.30,817.98 L348.30,815.62 L350.30,813.30 L352.30,811.00 L354.30,808.75 L356.30,806.53 L358.30,804.34 L360.30,802.20 L362.30,800.09 L364.30,798.02 L366.30,795.99 L368.30,794.00 L370.30,792.06 L372.30,790.15 L374.30,788.29 L376.30,786.47 L378.30,784.69 L380.30,782.95 L382.30,781.27 L384.30,779.62 L386.30,778.03 L388.30,776.48 L390.30,774.97 L392.30,773.52 L394.30,772.12 L396.30,770.76 L398.30,769.46 L400.30,768.20 L402.30,767.00 L404.30,765.85 L406.30,764.75 L408.30,763.71 L410.30,762.72 L412.30,761.78" fill="none" stroke="#000" stroke-width="4" stroke-linejoin="round"/>
<path d="M180.30,745.05 L182.30,745.73 L184.30,746.62 L186.30,747.72 L188.30,749.02 L190.30,750.51 L192.30,752.19 L194.30,754.06 L196.30,756.12 L198.30,758.34 L200.30,760.74 L202.30,763.30 L204.30,766.02 L206.30,768.90 L208.30,771.92 L210.30,775.09 L212.30,778.40 L214.30,781.84 L216.30,785.41 L218.30,789.11 L220.30,792.91 L222.30,796.79 L224.30,800.75 L226.30,804.76 L228.30,808.80 L230.30,812.86 L232.30,816.91 L234.30,820.95 L236.30,824.95 L238.30,828.89 L240.30,832.75 L242.30,836.54 L244.30,840.23 L246.30,843.84 L248.30,847.34 L250.30,850.75 L252.30,854.05 L254.30,857.24 L256.30,860.32 L258.30,863.28 L260.30,866.12 L262.30,868.83 L264.30,871.42 L266.30,873.86 L268.30,876.17 L270.30,878.34 L272.30,880.35 L274.30,882.22 L276.30,883.93 L278.30,885.48 L280.30,886.86 L282.30,888.07 L284.30,889.12 L286.30,889.98 L288.30,890.66 L290.30,891.16 L292.30,891.47 L294.30,891.58 L296.30,891.50 L298.30,891.23 L300.30,890.78 L302.30,890.16 L304.30,889.37 L306.30,888.43 L308.30,887.33 L310.30,886.09 L312.30,884.71 L314.30,883.21 L316.30,881.58 L318.30,879.83 L320.30,877.98 L322.30,876.03 L324.30,873.98 L326.30,871.85 L328.30,869.64 L330.30,867.36 L332.30,865.01 L334.30,862.60 L336.30,860.15 L338.30,857.65 L340.30,855.11 L342.30,852.55 L344.30,849.97 L346.30,847.37 L348.30,844.76 L350.30,842.15 L352.30,839.55 L354.30,836.97 L356.30,834.40 L358.30,831.87 L360.30,829.36 L362.30,826.88 L364.30,824.43 L366.30,822.01 L368.30,819.62 L370.30,817.26 L372.30,814.94 L374.30,812.64 L376.30,810.38 L378.30,808.15 L380.30,805.95 L382.30,803.79 L384.30,801.66 L386.30,799.57 L388.30,797.51 L390.30,795.49 L392.30,793.51 L394.30,791.56 L396.30,789.65 L398.30,787.78 L400.30,785.95 L402.30,784.15 L404.30,782.40 L406.30,780.68 L408.30,779.01 L410.30,777.38 L412.30,775.79" fill="none" stroke="#000" stroke-width="4" stroke-linejoin="round" stroke-dasharray="11.5 13.17" stroke-dashoffset="-0.53"/>
<rect x="437.30" y="9.90" width="30.70" height="3.80" fill="#1ef21e"/>
<rect x="437.30" y="38.00" width="30.70" height="3.90" fill="#ff69b4"/>
<text x="473.70" y="18.80" font-size="24.5">CS-</text>
<text x="473.70" y="47.60" font-size="24.5">CS+</text>
<rect x="426.80" y="335.00" width="30.50" height="4.40" fill="#8f8f8f"/>
<text x="462.90" y="344.80" font-size="24.5">CS+ - CS-</text>
<rect x="439.00" y="702.30" width="30.40" height="4.10" fill="#000"/>
<rect x="439.00" y="725.30" width="11.90" height="4.20" fill="#000"/>
<rect x="455.10" y="725.30" width="12.20" height="4.20" fill="#000"/>
<text x="475.70" y="710.50" font-size="24.5">model fit</text>
<text x="475.70" y="732.60" font-size="24.5">model moved</text>
<text x="43.75" y="73.75" font-size="24.5" fill="#000">15</text>
<rect x="44.72" y="55.99" width="12.36" height="18.66" fill="#fff"/>
<path transform="translate(43.75,73.75) scale(0.011963,-0.011451)" d="M763 0H583V1147Q518 1085 412.5 1023T223 930V1104Q374 1175 487 1276T647 1472H763V0Z"/>
<text x="43.80" y="109.75" font-size="24.5" fill="#000">13</text>
<rect x="44.77" y="91.99" width="12.36" height="18.66" fill="#fff"/>
<path transform="translate(43.80,109.75) scale(0.011963,-0.011451)" d="M763 0H583V1147Q518 1085 412.5 1023T223 930V1104Q374 1175 487 1276T647 1472H763V0Z"/>
<text x="43.85" y="146.45" font-size="24.5" fill="#000">11</text>
<rect x="44.82" y="128.69" width="12.36" height="18.66" fill="#fff"/>
<path transform="translate(43.85,146.45) scale(0.011963,-0.011451)" d="M763 0H583V1147Q518 1085 412.5 1023T223 930V1104Q374 1175 487 1276T647 1472H763V0Z"/>
<rect x="56.62" y="128.69" width="12.36" height="18.66" fill="#fff"/>
<path transform="translate(55.66,146.45) scale(0.011963,-0.011451)" d="M763 0H583V1147Q518 1085 412.5 1023T223 930V1104Q374 1175 487 1276T647 1472H763V0Z"/>
<text x="51.80" y="182.05" font-size="24.5" fill="#000">9</text>
<text x="51.75" y="218.35" font-size="24.5" fill="#000">7</text>
<text x="51.80" y="253.55" font-size="24.5" fill="#000">5</text>
<text x="72.85" y="270.95" font-size="24.5" fill="#000">0</text>
<text x="118.85" y="270.95" font-size="24.5" fill="#000">1</text>
<rect x="119.82" y="253.19" width="12.36" height="18.66" fill="#fff"/>
<path transform="translate(118.85,270.95) scale(0.011963,-0.011451)" d="M763 0H583V1147Q518 1085 412.5 1023T223 930V1104Q374 1175 487 1276T647 1472H763V0Z"/>
<text x="168.50" y="271.05" font-size="24.5" fill="#000">2</text>
<text x="215.55" y="270.95" font-size="24.5" fill="#000">3</text>
<text x="260.75" y="270.95" font-size="24.5" fill="#000">4</text>
<text x="308.20" y="270.85" font-size="24.5" fill="#000">5</text>
<text x="376.65" y="71.40" font-size="24.5" fill="#000">15</text>
<rect x="377.62" y="53.64" width="12.36" height="18.66" fill="#fff"/>
<path transform="translate(376.65,71.40) scale(0.011963,-0.011451)" d="M763 0H583V1147Q518 1085 412.5 1023T223 930V1104Q374 1175 487 1276T647 1472H763V0Z"/>
<text x="376.70" y="108.65" font-size="24.5" fill="#000">13</text>
<rect x="377.67" y="90.89" width="12.36" height="18.66" fill="#fff"/>
<path transform="translate(376.70,108.65) scale(0.011963,-0.011451)" d="M763 0H583V1147Q518 1085 412.5 1023T223 930V1104Q374 1175 487 1276T647 1472H763V0Z"/>
<text x="376.75" y="145.35" font-size="24.5" fill="#000">11</text>
<rect x="377.72" y="127.59" width="12.36" height="18.66" fill="#fff"/>
<path transform="translate(376.75,145.35) scale(0.011963,-0.011451)" d="M763 0H583V1147Q518 1085 412.5 1023T223 930V1104Q374 1175 487 1276T647 1472H763V0Z"/>
<rect x="389.52" y="127.59" width="12.36" height="18.66" fill="#fff"/>
<path transform="translate(388.56,145.35) scale(0.011963,-0.011451)" d="M763 0H583V1147Q518 1085 412.5 1023T223 930V1104Q374 1175 487 1276T647 1472H763V0Z"/>
<text x="384.70" y="180.45" font-size="24.5" fill="#000">9</text>
<text x="384.65" y="217.15" font-size="24.5" fill="#000">7</text>
<text x="384.70" y="253.75" font-size="24.5" fill="#000">5</text>
<text x="406.65" y="270.05" font-size="24.5" fill="#000">0</text>
<text x="452.75" y="270.05" font-size="24.5" fill="#000">1</text>
<rect x="453.72" y="252.29" width="12.36" height="18.66" fill="#fff"/>
<path transform="translate(452.75,270.05) scale(0.011963,-0.011451)" d="M763 0H583V1147Q518 1085 412.5 1023T223 930V1104Q374 1175 487 1276T647 1472H763V0Z"/>
<text x="502.20" y="270.15" font-size="24.5" fill="#000">2</text>
<text x="549.45" y="270.05" font-size="24.5" fill="#000">3</text>
<text x="594.45" y="270.05" font-size="24.5" fill="#000">4</text>
<text x="641.70" y="269.95" font-size="24.5" fill="#000">5</text>
<text x="34.00" y="362.80" font-size="24.5" fill="#000">1.0</text>
<rect x="34.97" y="345.04" width="12.36" height="18.66" fill="#fff"/>
<path transform="translate(34.00,362.80) scale(0.011963,-0.011451)" d="M763 0H583V1147Q518 1085 412.5 1023T223 930V1104Q374 1175 487 1276T647 1472H763V0Z"/>
<text x="33.90" y="401.45" font-size="24.5" fill="#000">0.5</text>
<text x="44.15" y="440.25" font-size="24.5" fill="#000">0</text>
<text x="29.35" y="479.05" font-size="24.5" fill="#000">-0.5</text>
<text x="29.30" y="518.15" font-size="24.5" fill="#000">-1.0</text>
<rect x="38.43" y="500.39" width="12.36" height="18.66" fill="#fff"/>
<path transform="translate(37.46,518.15) scale(0.011963,-0.011451)" d="M763 0H583V1147Q518 1085 412.5 1023T223 930V1104Q374 1175 487 1276T647 1472H763V0Z"/>
<text x="29.35" y="556.45" font-size="24.5" fill="#000">-1.5</text>
<rect x="38.48" y="538.69" width="12.36" height="18.66" fill="#fff"/>
<path transform="translate(37.51,556.45) scale(0.011963,-0.011451)" d="M763 0H583V1147Q518 1085 412.5 1023T223 930V1104Q374 1175 487 1276T647 1472H763V0Z"/>
<text x="29.30" y="595.45" font-size="24.5" fill="#000">-2.0</text>
<text x="71.75" y="616.05" font-size="24.5" fill="#000">0</text>
<text x="117.45" y="616.05" font-size="24.5" fill="#000">1</text>
<rect x="118.42" y="598.29" width="12.36" height="18.66" fill="#fff"/>
<path transform="translate(117.45,616.05) scale(0.011963,-0.011451)" d="M763 0H583V1147Q518 1085 412.5 1023T223 930V1104Q374 1175 487 1276T647 1472H763V0Z"/>
<text x="167.70" y="616.15" font-size="24.5" fill="#000">2</text>
<text x="214.55" y="616.05" font-size="24.5" fill="#000">3</text>
<text x="259.25" y="616.05" font-size="24.5" fill="#000">4</text>
<text x="307.20" y="615.95" font-size="24.5" fill="#000">5</text>
<text x="368.90" y="368.85" font-size="24.5" fill="#000">1.0</text>
<rect x="369.87" y="351.09" width="12.36" height="18.66" fill="#fff"/>
<path transform="translate(368.90,368.85) scale(0.011963,-0.011451)" d="M763 0H583V1147Q518 1085 412.5 1023T223 930V1104Q374 1175 487 1276T647 1472H763V0Z"/>
<text x="368.50" y="401.85" font-size="24.5" fill="#000">0.5</text>
<text x="378.85" y="433.45" font-size="24.5" fill="#000">0</text>
<text x="364.25" y="465.95" font-size="24.5" fill="#000">-0.5</text>
<text x="363.80" y="498.75" font-size="24.5" fill="#000">-1.0</text>
<rect x="372.93" y="480.99" width="12.36" height="18.66" fill="#fff"/>
<path transform="translate(371.96,498.75) scale(0.011963,-0.011451)" d="M763 0H583V1147Q518 1085 412.5 1023T223 930V1104Q374 1175 487 1276T647 1472H763V0Z"/>
<text x="363.85" y="531.25" font-size="24.5" fill="#000">-1.5</text>
<rect x="372.98" y="513.49" width="12.36" height="18.66" fill="#fff"/>
<path transform="translate(372.01,531.25) scale(0.011963,-0.011451)" d="M763 0H583V1147Q518 1085 412.5 1023T223 930V1104Q374 1175 487 1276T647 1472H763V0Z"/>
<text x="363.80" y="563.75" font-size="24.5" fill="#000">-2.0</text>
<text x="363.85" y="596.05" font-size="24.5" fill="#000">-2.5</text>
<text x="406.55" y="612.95" font-size="24.5" fill="#000">0</text>
<text x="452.45" y="612.95" font-size="24.5" fill="#000">1</text>
<rect x="453.42" y="595.19" width="12.36" height="18.66" fill="#fff"/>
<path transform="translate(452.45,612.95) scale(0.011963,-0.011451)" d="M763 0H583V1147Q518 1085 412.5 1023T223 930V1104Q374 1175 487 1276T647 1472H763V0Z"/>
<text x="502.10" y="613.05" font-size="24.5" fill="#000">2</text>
<text x="549.55" y="612.95" font-size="24.5" fill="#000">3</text>
<text x="593.75" y="612.95" font-size="24.5" fill="#000">4</text>
<text x="641.10" y="612.85" font-size="24.5" fill="#000">5</text>
<text x="115.30" y="699.35" font-size="24.5" fill="#000">0.50</text>
<text x="115.35" y="724.45" font-size="24.5" fill="#000">0.25</text>
<text x="132.35" y="750.05" font-size="24.5" fill="#000">0</text>
<text x="110.85" y="774.95" font-size="24.5" fill="#000">-0.25</text>
<text x="110.80" y="799.45" font-size="24.5" fill="#000">-0.50</text>
<text x="110.85" y="823.95" font-size="24.5" fill="#000">-0.75</text>
<text x="110.80" y="849.75" font-size="24.5" fill="#000">-1.00</text>
<rect x="119.93" y="831.99" width="12.36" height="18.66" fill="#fff"/>
<path transform="translate(118.96,849.75) scale(0.011963,-0.011451)" d="M763 0H583V1147Q518 1085 412.5 1023T223 930V1104Q374 1175 487 1276T647 1472H763V0Z"/>
<text x="110.85" y="874.25" font-size="24.5" fill="#000">-1.25</text>
<rect x="119.98" y="856.49" width="12.36" height="18.66" fill="#fff"/>
<path transform="translate(119.01,874.25) scale(0.011963,-0.011451)" d="M763 0H583V1147Q518 1085 412.5 1023T223 930V1104Q374 1175 487 1276T647 1472H763V0Z"/>
<text x="110.80" y="900.15" font-size="24.5" fill="#000">-1.50</text>
<rect x="119.93" y="882.39" width="12.36" height="18.66" fill="#fff"/>
<path transform="translate(118.96,900.15) scale(0.011963,-0.011451)" d="M763 0H583V1147Q518 1085 412.5 1023T223 930V1104Q374 1175 487 1276T647 1472H763V0Z"/>
<text x="110.85" y="924.55" font-size="24.5" fill="#000">-1.75</text>
<rect x="119.98" y="906.79" width="12.36" height="18.66" fill="#fff"/>
<path transform="translate(119.01,924.55) scale(0.011963,-0.011451)" d="M763 0H583V1147Q518 1085 412.5 1023T223 930V1104Q374 1175 487 1276T647 1472H763V0Z"/>
<text x="170.45" y="941.75" font-size="24.5" fill="#000">0</text>
<text x="215.85" y="941.75" font-size="24.5" fill="#000">1</text>
<rect x="216.82" y="923.99" width="12.36" height="18.66" fill="#fff"/>
<path transform="translate(215.85,941.75) scale(0.011963,-0.011451)" d="M763 0H583V1147Q518 1085 412.5 1023T223 930V1104Q374 1175 487 1276T647 1472H763V0Z"/>
<text x="266.10" y="941.85" font-size="24.5" fill="#000">2</text>
<text x="312.95" y="941.75" font-size="24.5" fill="#000">3</text>
<text x="357.75" y="941.75" font-size="24.5" fill="#000">4</text>
<text x="405.90" y="941.65" font-size="24.5" fill="#000">5</text>
<text x="150.10" y="297.10" font-size="24.5">Time (s)</text>
<text x="148.70" y="642.00" font-size="24.5">Time (s)</text>
<text x="479.10" y="299.00" font-size="24.5">Time (s)</text>
<text x="479.60" y="642.00" font-size="24.5">Time (s)</text>
<text x="247.70" y="968.40" font-size="24.5">Time (s)</text>
<text transform="translate(19.40,258.50) rotate(-90)" font-size="24.5">Scan Speed (°/s)</text>
<text transform="translate(19.40,566.10) rotate(-90)" font-size="24.5">Scan Speed (°/s)</text>
<text transform="translate(353.00,259.30) rotate(-90)" font-size="24.5">Scan Speed (°/s)</text>
<text transform="translate(353.00,572.80) rotate(-90)" font-size="24.5">Scan Speed (°/s)</text>
<text transform="translate(93.90,894.60) rotate(-90)" font-size="24.5">Scan Speed (°/s)</text>
<text x="3.00" y="42.25" font-size="33" font-weight="bold" fill="#000">a</text>
<text x="3.95" y="349.65" font-size="33" font-weight="bold" fill="#000">b</text>
<text x="335.60" y="42.05" font-size="33" font-weight="bold" fill="#000">c</text>
<text x="335.90" y="349.30" font-size="33" font-weight="bold" fill="#000">d</text>
<text x="77.80" y="683.05" font-size="33" font-weight="bold" fill="#000">e</text></svg></body></html>
